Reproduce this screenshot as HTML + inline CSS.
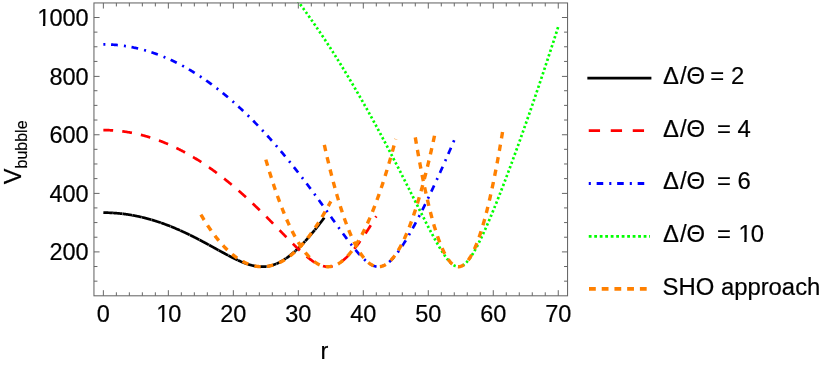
<!DOCTYPE html>
<html><head><meta charset="utf-8"><title>V bubble</title>
<style>
html,body{margin:0;padding:0;background:#fff;}
body{width:830px;height:365px;overflow:hidden;}
svg{display:block;}
text{font-family:"Liberation Sans",sans-serif;fill:#000;stroke:#000;stroke-width:0.2px;}
</style></head><body>
<svg width="830" height="365" viewBox="0 0 830 365" style="will-change:transform">
<rect x="0" y="0" width="830" height="365" fill="#fff"/>
<defs><clipPath id="pc"><rect x="93.95" y="2.25" width="473.60" height="293.55"/></clipPath></defs>
<g clip-path="url(#pc)" stroke-linecap="butt" stroke-linejoin="round">
<path d="M103.36,212.65 L103.68,212.66 L103.99,212.66 L104.31,212.66 L104.63,212.66 L104.95,212.66 L105.26,212.67 L105.58,212.67 L105.90,212.67 L106.21,212.68 L106.53,212.69 L106.85,212.69 L107.17,212.70 L107.48,212.71 L107.80,212.72 L108.12,212.72 L108.44,212.73 L108.75,212.74 L109.07,212.76 L109.39,212.77 L109.70,212.78 L110.02,212.79 L110.34,212.81 L110.66,212.82 L110.97,212.83 L111.29,212.85 L111.61,212.87 L111.92,212.88 L112.24,212.90 L112.56,212.92 L112.88,212.94" fill="none" stroke="#000000" stroke-width="2.7"/>
<path d="M113.06,212.95 L113.37,212.97 L113.69,212.99 L114.00,213.01 L114.31,213.03 L114.63,213.05 L114.94,213.07 L115.26,213.09 L115.57,213.12 L115.89,213.14 L116.20,213.17 L116.51,213.19 L116.83,213.22 L117.14,213.24 L117.46,213.27 L117.77,213.30 L118.08,213.33 L118.40,213.36 L118.71,213.39 L119.03,213.42 L119.34,213.45 L119.65,213.48 L119.97,213.51 L120.28,213.54 L120.60,213.58 L120.91,213.61 L121.23,213.64 L121.54,213.68 L121.85,213.71 L122.17,213.75 L122.48,213.79" fill="none" stroke="#000000" stroke-width="2.7"/>
<path d="M122.66,213.81 L122.98,213.85 L123.29,213.89 L123.61,213.92 L123.92,213.96 L124.24,214.00 L124.55,214.05 L124.86,214.09 L125.18,214.13 L125.49,214.17 L125.81,214.21 L126.12,214.26 L126.43,214.30 L126.75,214.35 L127.06,214.39 L127.38,214.44 L127.69,214.49 L128.00,214.53 L128.32,214.58 L128.63,214.63 L128.95,214.68 L129.26,214.73 L129.58,214.78 L129.89,214.83 L130.20,214.88 L130.52,214.94 L130.83,214.99 L131.15,215.04 L131.46,215.10 L131.77,215.15 L132.09,215.21" fill="none" stroke="#000000" stroke-width="2.7"/>
<path d="M132.27,215.24 L132.59,215.30 L132.90,215.35 L133.21,215.41 L133.53,215.47 L133.84,215.53 L134.16,215.59 L134.47,215.65 L134.78,215.71 L135.10,215.77 L135.41,215.83 L135.73,215.89 L136.04,215.95 L136.35,216.02 L136.67,216.08 L136.98,216.15 L137.30,216.21 L137.61,216.28 L137.93,216.34 L138.24,216.41 L138.55,216.48 L138.87,216.55 L139.18,216.62 L139.50,216.68 L139.81,216.75 L140.12,216.82 L140.44,216.90 L140.75,216.97 L141.07,217.04 L141.38,217.11 L141.70,217.19" fill="none" stroke="#000000" stroke-width="2.7"/>
<path d="M141.88,217.23 L142.19,217.30 L142.51,217.38 L142.82,217.45 L143.13,217.53 L143.45,217.61 L143.76,217.68 L144.08,217.76 L144.39,217.84 L144.70,217.92 L145.02,218.00 L145.33,218.08 L145.65,218.16 L145.96,218.24 L146.28,218.32 L146.59,218.41 L146.90,218.49 L147.22,218.57 L147.53,218.66 L147.85,218.74 L148.16,218.83 L148.47,218.92 L148.79,219.00 L149.10,219.09 L149.42,219.18 L149.73,219.27 L150.05,219.35 L150.36,219.44 L150.67,219.53 L150.99,219.62 L151.30,219.72" fill="none" stroke="#000000" stroke-width="2.7"/>
<path d="M151.48,219.77 L151.80,219.86 L152.11,219.95 L152.43,220.05 L152.74,220.14 L153.05,220.24 L153.37,220.33 L153.68,220.43 L154.00,220.52 L154.31,220.62 L154.63,220.72 L154.94,220.81 L155.25,220.91 L155.57,221.01 L155.88,221.11 L156.20,221.21 L156.51,221.31 L156.82,221.41 L157.14,221.51 L157.45,221.62 L157.77,221.72 L158.08,221.82 L158.40,221.93 L158.71,222.03 L159.02,222.14 L159.34,222.24 L159.65,222.35 L159.97,222.46 L160.28,222.56 L160.59,222.67 L160.91,222.78" fill="none" stroke="#000000" stroke-width="2.7"/>
<path d="M161.09,222.84 L161.40,222.95 L161.72,223.06 L162.03,223.17 L162.35,223.28 L162.66,223.39 L162.98,223.51 L163.29,223.62 L163.60,223.73 L163.92,223.85 L164.23,223.96 L164.55,224.07 L164.86,224.19 L165.17,224.31 L165.49,224.42 L165.80,224.54 L166.12,224.66 L166.43,224.77 L166.75,224.89 L167.06,225.01 L167.37,225.13 L167.69,225.25 L168.00,225.37 L168.32,225.49 L168.63,225.61 L168.94,225.74 L169.26,225.86 L169.57,225.98 L169.89,226.11 L170.20,226.23 L170.52,226.36" fill="none" stroke="#000000" stroke-width="2.7"/>
<path d="M170.70,226.43 L171.01,226.55 L171.33,226.68 L171.64,226.81 L171.95,226.93 L172.27,227.06 L172.58,227.19 L172.90,227.32 L173.21,227.45 L173.52,227.58 L173.84,227.71 L174.15,227.84 L174.47,227.97 L174.78,228.10 L175.10,228.23 L175.41,228.37 L175.72,228.50 L176.04,228.63 L176.35,228.77 L176.67,228.90 L176.98,229.04 L177.29,229.17 L177.61,229.31 L177.92,229.44 L178.24,229.58 L178.55,229.72 L178.87,229.86 L179.18,229.99 L179.49,230.13 L179.81,230.27 L180.12,230.41" fill="none" stroke="#000000" stroke-width="2.7"/>
<path d="M180.30,230.49 L180.62,230.63 L180.93,230.78 L181.25,230.92 L181.56,231.06 L181.87,231.20 L182.19,231.35 L182.50,231.49 L182.82,231.63 L183.13,231.78 L183.45,231.92 L183.76,232.07 L184.07,232.21 L184.39,232.36 L184.70,232.50 L185.02,232.65 L185.33,232.80 L185.64,232.95 L185.96,233.10 L186.27,233.24 L186.59,233.39 L186.90,233.54 L187.22,233.69 L187.53,233.84 L187.84,233.99 L188.16,234.15 L188.47,234.30 L188.79,234.45 L189.10,234.60 L189.41,234.75 L189.73,234.91" fill="none" stroke="#000000" stroke-width="2.7"/>
<path d="M189.91,235.00 L190.22,235.15 L190.54,235.30 L190.85,235.46 L191.17,235.61 L191.48,235.77 L191.80,235.93 L192.11,236.08 L192.42,236.24 L192.74,236.40 L193.05,236.55 L193.37,236.71 L193.68,236.87 L193.99,237.03 L194.31,237.19 L194.62,237.35 L194.94,237.51 L195.25,237.67 L195.57,237.83 L195.88,237.99 L196.19,238.15 L196.51,238.31 L196.82,238.47 L197.14,238.63 L197.45,238.79 L197.76,238.96 L198.08,239.12 L198.39,239.28 L198.71,239.45 L199.02,239.61 L199.34,239.77" fill="none" stroke="#000000" stroke-width="2.7"/>
<path d="M199.52,239.87 L199.83,240.03 L200.15,240.20 L200.46,240.36 L200.77,240.53 L201.09,240.70 L201.40,240.86 L201.72,241.03 L202.03,241.19 L202.34,241.36 L202.66,241.53 L202.97,241.70 L203.29,241.86 L203.60,242.03 L203.92,242.20 L204.23,242.37 L204.54,242.54 L204.86,242.71 L205.17,242.87 L205.49,243.04 L205.80,243.21 L206.11,243.38 L206.43,243.55 L206.74,243.72 L207.06,243.89 L207.37,244.06 L207.69,244.23 L208.00,244.41 L208.31,244.58 L208.63,244.75 L208.94,244.92" fill="none" stroke="#000000" stroke-width="2.7"/>
<path d="M209.12,245.02 L209.44,245.19 L209.75,245.36 L210.07,245.53 L210.38,245.71 L210.69,245.88 L211.01,246.05 L211.32,246.22 L211.64,246.39 L211.95,246.57 L212.27,246.74 L212.58,246.91 L212.89,247.08 L213.21,247.26 L213.52,247.43 L213.84,247.60 L214.15,247.78 L214.46,247.95 L214.78,248.12 L215.09,248.30 L215.41,248.47 L215.72,248.64 L216.04,248.81 L216.35,248.99 L216.66,249.16 L216.98,249.33 L217.29,249.51 L217.61,249.68 L217.92,249.85 L218.23,250.03 L218.55,250.20" fill="none" stroke="#000000" stroke-width="2.7"/>
<path d="M218.73,250.30 L219.04,250.47 L219.36,250.64 L219.67,250.82 L219.99,250.99 L220.30,251.16 L220.62,251.33 L220.93,251.50 L221.24,251.68 L221.56,251.85 L221.87,252.02 L222.19,252.19 L222.50,252.36 L222.81,252.53 L223.13,252.70 L223.44,252.87 L223.76,253.04 L224.07,253.21 L224.39,253.38 L224.70,253.55 L225.01,253.72 L225.33,253.89 L225.64,254.06 L225.96,254.23 L226.27,254.39 L226.58,254.56 L226.90,254.73 L227.21,254.89 L227.53,255.06 L227.84,255.23 L228.16,255.39" fill="none" stroke="#000000" stroke-width="2.7"/>
<path d="M228.34,255.49 L228.65,255.65 L228.97,255.82 L229.28,255.98 L229.59,256.14 L229.91,256.31 L230.22,256.47 L230.54,256.63 L230.85,256.79 L231.16,256.95 L231.48,257.11 L231.79,257.27 L232.11,257.43 L232.42,257.59 L232.74,257.75 L233.05,257.91 L233.36,258.06 L233.68,258.22 L233.99,258.37 L234.31,258.53 L234.62,258.68 L234.93,258.83 L235.25,258.99 L235.56,259.14 L235.88,259.29 L236.19,259.44 L236.51,259.58 L236.82,259.73 L237.13,259.88 L237.45,260.03 L237.76,260.17" fill="none" stroke="#000000" stroke-width="2.7"/>
<path d="M237.94,260.25 L238.26,260.40 L238.57,260.54 L238.89,260.68 L239.20,260.82 L239.51,260.96 L239.83,261.10 L240.14,261.24 L240.46,261.37 L240.77,261.51 L241.09,261.64 L241.40,261.78 L241.71,261.91 L242.03,262.04 L242.34,262.17 L242.66,262.29 L242.97,262.42 L243.28,262.55 L243.60,262.67 L243.91,262.79 L244.23,262.91 L244.54,263.03 L244.86,263.15 L245.17,263.27 L245.48,263.38 L245.80,263.50 L246.11,263.61 L246.43,263.72 L246.74,263.83 L247.05,263.94 L247.37,264.04" fill="none" stroke="#000000" stroke-width="2.7"/>
<path d="M247.55,264.10 L247.86,264.21 L248.18,264.31 L248.49,264.41 L248.81,264.51 L249.12,264.60 L249.44,264.70 L249.75,264.79 L250.06,264.88 L250.38,264.97 L250.69,265.06 L251.01,265.14 L251.32,265.23 L251.63,265.31 L251.95,265.39 L252.26,265.46 L252.58,265.54 L252.89,265.61 L253.21,265.68 L253.52,265.75 L253.83,265.82 L254.15,265.88 L254.46,265.95 L254.78,266.01 L255.09,266.06 L255.40,266.12 L255.72,266.17 L256.03,266.22 L256.35,266.27 L256.66,266.32 L256.98,266.36" fill="none" stroke="#000000" stroke-width="2.7"/>
<path d="M257.16,266.39 L257.47,266.43 L257.79,266.47 L258.10,266.50 L258.41,266.53 L258.73,266.56 L259.04,266.59 L259.36,266.62 L259.67,266.64 L259.98,266.66 L260.30,266.68 L260.61,266.69 L260.93,266.70 L261.24,266.71 L261.56,266.72 L261.87,266.72 L262.18,266.72 L262.50,266.72 L262.81,266.72 L263.13,266.71 L263.44,266.70 L263.75,266.69 L264.07,266.67 L264.38,266.66 L264.70,266.63 L265.01,266.61 L265.33,266.58 L265.64,266.55 L265.95,266.52 L266.27,266.49 L266.58,266.45" fill="none" stroke="#000000" stroke-width="2.7"/>
<path d="M266.76,266.42 L267.08,266.38 L267.39,266.34 L267.71,266.29 L268.02,266.23 L268.33,266.18 L268.65,266.12 L268.96,266.06 L269.28,266.00 L269.59,265.93 L269.91,265.86 L270.22,265.79 L270.53,265.71 L270.85,265.64 L271.16,265.55 L271.48,265.47 L271.79,265.38 L272.10,265.29 L272.42,265.20 L272.73,265.10 L273.05,265.00 L273.36,264.90 L273.68,264.80 L273.99,264.69 L274.30,264.58 L274.62,264.46 L274.93,264.34 L275.25,264.22 L275.56,264.10 L275.87,263.98 L276.19,263.85" fill="none" stroke="#000000" stroke-width="2.7"/>
<path d="M276.37,263.77 L276.68,263.64 L277.00,263.50 L277.31,263.36 L277.63,263.22 L277.94,263.07 L278.26,262.93 L278.57,262.78 L278.88,262.62 L279.20,262.47 L279.51,262.31 L279.83,262.15 L280.14,261.98 L280.45,261.81 L280.77,261.64 L281.08,261.47 L281.40,261.29 L281.71,261.11 L282.03,260.93 L282.34,260.75 L282.65,260.56 L282.97,260.37 L283.28,260.18 L283.60,259.99 L283.91,259.79 L284.22,259.59 L284.54,259.39 L284.85,259.18 L285.17,258.97 L285.48,258.76 L285.79,258.55" fill="none" stroke="#000000" stroke-width="2.7"/>
<path d="M285.98,258.43 L286.29,258.21 L286.61,257.99 L286.92,257.77 L287.23,257.54 L287.55,257.32 L287.86,257.09 L288.18,256.86 L288.49,256.62 L288.80,256.38 L289.12,256.15 L289.43,255.90 L289.75,255.66 L290.06,255.41 L290.38,255.17 L290.69,254.92 L291.00,254.66 L291.32,254.41 L291.63,254.15 L291.95,253.89 L292.26,253.63 L292.57,253.37 L292.89,253.10 L293.20,252.83 L293.52,252.56 L293.83,252.29 L294.14,252.01 L294.46,251.74 L294.77,251.46 L295.09,251.18 L295.40,250.89" fill="none" stroke="#000000" stroke-width="2.7"/>
<path d="M295.58,250.73 L295.90,250.44 L296.21,250.15 L296.53,249.86 L296.84,249.57 L297.15,249.28 L297.47,248.98 L297.78,248.68 L298.10,248.38 L298.41,248.08 L298.73,247.78 L299.04,247.47 L299.35,247.16 L299.67,246.85 L299.98,246.54 L300.30,246.23 L300.61,245.91 L300.92,245.59 L301.24,245.28 L301.55,244.95 L301.87,244.63 L302.18,244.31 L302.49,243.98 L302.81,243.65 L303.12,243.33 L303.44,242.99 L303.75,242.66 L304.07,242.33 L304.38,241.99 L304.69,241.65 L305.01,241.31" fill="none" stroke="#000000" stroke-width="2.7"/>
<path d="M305.19,241.12 L305.50,240.77 L305.82,240.43 L306.13,240.08 L306.45,239.74 L306.76,239.39 L307.08,239.04 L307.39,238.69 L307.70,238.33 L308.02,237.98 L308.33,237.62 L308.65,237.26 L308.96,236.90 L309.27,236.54 L309.59,236.18 L309.90,235.82 L310.22,235.45 L310.53,235.08 L310.84,234.72 L311.16,234.35 L311.47,233.97 L311.79,233.60 L312.10,233.23 L312.42,232.85 L312.73,232.47 L313.04,232.10 L313.36,231.72 L313.67,231.33 L313.99,230.95 L314.30,230.57 L314.61,230.18" fill="none" stroke="#000000" stroke-width="2.7"/>
<path d="M314.80,229.96 L315.11,229.57 L315.43,229.17 L315.75,228.78 L316.07,228.39 L316.38,227.99 L316.70,227.59 L317.02,227.19 L317.33,226.79 L317.65,226.39 L317.97,225.98 L318.29,225.58 L318.60,225.17 L318.92,224.77 L319.24,224.36 L319.55,223.95 L319.87,223.54 L320.19,223.13 L320.51,222.71 L320.82,222.30 L321.14,221.88 L321.46,221.46 L321.77,221.04 L322.09,220.62 L322.41,220.20 L322.73,219.78 L323.04,219.36 L323.36,218.93 L323.68,218.51 L324.00,218.08 L324.31,217.65" fill="none" stroke="#000000" stroke-width="2.7"/>
<path d="M103.36,130.11 L103.75,130.11 L104.14,130.11 L104.53,130.11 L104.92,130.12 L105.31,130.12 L105.70,130.13 L106.09,130.13 L106.48,130.14 L106.87,130.15 L107.26,130.16 L107.66,130.17 L108.05,130.18 L108.44,130.20 L108.83,130.21 L109.22,130.22 L109.61,130.24 L110.00,130.26 L110.39,130.28 L110.78,130.29 L111.17,130.31 L111.56,130.34 L111.95,130.36 L112.34,130.38 L112.73,130.40 L113.12,130.43 L113.51,130.46 L113.90,130.48 L114.29,130.51 L114.68,130.54 L115.07,130.57 L115.46,130.60 L115.86,130.63 L116.25,130.67 L116.64,130.70 L117.03,130.74 L117.42,130.77 L117.81,130.81 L118.20,130.85 L118.59,130.89 L118.98,130.93 L119.37,130.97 L119.76,131.01 L120.15,131.06 L120.54,131.10 L120.93,131.15 L121.32,131.19 L121.71,131.24 L122.10,131.29 L122.49,131.34 L122.88,131.39 L123.27,131.44 L123.66,131.50 L124.06,131.55 L124.45,131.61 L124.84,131.66 L125.23,131.72 L125.62,131.78 L126.01,131.83 L126.40,131.89 L126.79,131.96 L127.18,132.02 L127.57,132.08 L127.96,132.15 L128.35,132.21 L128.74,132.28 L129.13,132.34 L129.52,132.41 L129.91,132.48 L130.30,132.55 L130.69,132.62 L131.08,132.69 L131.47,132.77 L131.86,132.84 L132.26,132.92 L132.65,132.99 L133.04,133.07 L133.43,133.15 L133.82,133.23 L134.21,133.31 L134.60,133.39 L134.99,133.47 L135.38,133.56 L135.77,133.64 L136.16,133.73 L136.55,133.81 L136.94,133.90 L137.33,133.99 L137.72,134.08 L138.11,134.17 L138.50,134.26 L138.89,134.36 L139.28,134.45 L139.67,134.54 L140.06,134.64 L140.46,134.74 L140.85,134.83 L141.24,134.93 L141.63,135.03 L142.02,135.13 L142.41,135.24 L142.80,135.34 L143.19,135.44 L143.58,135.55 L143.97,135.65 L144.36,135.76 L144.75,135.87 L145.14,135.98 L145.53,136.09 L145.92,136.20 L146.31,136.31 L146.70,136.42 L147.09,136.54 L147.48,136.65 L147.87,136.77 L148.26,136.89 L148.65,137.01 L149.05,137.12 L149.44,137.24 L149.83,137.37 L150.22,137.49 L150.61,137.61 L151.00,137.74 L151.39,137.86 L151.78,137.99 L152.17,138.11 L152.56,138.24 L152.95,138.37 L153.34,138.50 L153.73,138.63 L154.12,138.77 L154.51,138.90 L154.90,139.04 L155.29,139.17 L155.68,139.31 L156.07,139.44 L156.46,139.58 L156.85,139.72 L157.25,139.86 L157.64,140.00 L158.03,140.15 L158.42,140.29 L158.81,140.44 L159.20,140.58 L159.59,140.73 L159.98,140.88 L160.37,141.02 L160.76,141.17 L161.15,141.32 L161.54,141.48 L161.93,141.63 L162.32,141.78 L162.71,141.94 L163.10,142.09 L163.49,142.25 L163.88,142.41 L164.27,142.57 L164.66,142.73 L165.05,142.89 L165.45,143.05 L165.84,143.21 L166.23,143.38 L166.62,143.54 L167.01,143.71 L167.40,143.87 L167.79,144.04 L168.18,144.21 L168.57,144.38 L168.96,144.55 L169.35,144.72 L169.74,144.90 L170.13,145.07 L170.52,145.25 L170.91,145.42 L171.30,145.60 L171.69,145.78 L172.08,145.96 L172.47,146.14 L172.86,146.32 L173.25,146.50 L173.65,146.68 L174.04,146.87 L174.43,147.05 L174.82,147.24 L175.21,147.42 L175.60,147.61 L175.99,147.80 L176.38,147.99 L176.77,148.18 L177.16,148.37 L177.55,148.57 L177.94,148.76 L178.33,148.96 L178.72,149.15 L179.11,149.35 L179.50,149.55 L179.89,149.75 L180.28,149.95 L180.67,150.15 L181.06,150.35 L181.45,150.55 L181.85,150.75 L182.24,150.96 L182.63,151.17 L183.02,151.37 L183.41,151.58 L183.80,151.79 L184.19,152.00 L184.58,152.21 L184.97,152.42 L185.36,152.64 L185.75,152.85 L186.14,153.06 L186.53,153.28 L186.92,153.50 L187.31,153.72 L187.70,153.93 L188.09,154.15 L188.48,154.37 L188.87,154.60 L189.26,154.82 L189.65,155.04 L190.05,155.27 L190.44,155.49 L190.83,155.72 L191.22,155.95 L191.61,156.18 L192.00,156.41 L192.39,156.64 L192.78,156.87 L193.17,157.10 L193.56,157.34 L193.95,157.57 L194.34,157.81 L194.73,158.04 L195.12,158.28 L195.51,158.52 L195.90,158.76 L196.29,159.00 L196.68,159.24 L197.07,159.48 L197.46,159.73 L197.85,159.97 L198.25,160.22 L198.64,160.46 L199.03,160.71 L199.42,160.96 L199.81,161.21 L200.20,161.46 L200.59,161.71 L200.98,161.96 L201.37,162.21 L201.76,162.47 L202.15,162.72 L202.54,162.98 L202.93,163.24 L203.32,163.50 L203.71,163.75 L204.10,164.01 L204.49,164.28 L204.88,164.54 L205.27,164.80 L205.66,165.06 L206.05,165.33 L206.45,165.59 L206.84,165.86 L207.23,166.13 L207.62,166.40 L208.01,166.67 L208.40,166.94 L208.79,167.21 L209.18,167.48 L209.57,167.75 L209.96,168.03 L210.35,168.30 L210.74,168.58 L211.13,168.86 L211.52,169.14 L211.91,169.41 L212.30,169.70 L212.69,169.98 L213.08,170.26 L213.47,170.54 L213.86,170.82 L214.25,171.11 L214.65,171.40 L215.04,171.68 L215.43,171.97 L215.82,172.26 L216.21,172.55 L216.60,172.84 L216.99,173.13 L217.38,173.42 L217.77,173.71 L218.16,174.01 L218.55,174.30 L218.94,174.60 L219.33,174.90 L219.72,175.19 L220.11,175.49 L220.50,175.79 L220.89,176.09 L221.28,176.39 L221.67,176.70 L222.06,177.00 L222.45,177.30 L222.84,177.61 L223.24,177.92 L223.63,178.22 L224.02,178.53 L224.41,178.84 L224.80,179.15 L225.19,179.46 L225.58,179.77 L225.97,180.08 L226.36,180.40 L226.75,180.71 L227.14,181.03 L227.53,181.34 L227.92,181.66 L228.31,181.98 L228.70,182.30 L229.09,182.62 L229.48,182.94 L229.87,183.26 L230.26,183.58 L230.65,183.90 L231.04,184.23 L231.44,184.55 L231.83,184.88 L232.22,185.20 L232.61,185.53 L233.00,185.86 L233.39,186.19 L233.78,186.52 L234.17,186.85 L234.56,187.18 L234.95,187.52 L235.34,187.85 L235.73,188.18 L236.12,188.52 L236.51,188.85 L236.90,189.19 L237.29,189.53 L237.68,189.87 L238.07,190.21 L238.46,190.55 L238.85,190.89 L239.24,191.23 L239.64,191.57 L240.03,191.92 L240.42,192.26 L240.81,192.61 L241.20,192.95 L241.59,193.30 L241.98,193.65 L242.37,194.00 L242.76,194.35 L243.15,194.70 L243.54,195.05 L243.93,195.40 L244.32,195.75 L244.71,196.11 L245.10,196.46 L245.49,196.82 L245.88,197.17 L246.27,197.53 L246.66,197.88 L247.05,198.24 L247.44,198.60 L247.84,198.96 L248.23,199.32 L248.62,199.68 L249.01,200.04 L249.40,200.41 L249.79,200.77 L250.18,201.13 L250.57,201.50 L250.96,201.87 L251.35,202.23 L251.74,202.60 L252.13,202.97 L252.52,203.34 L252.91,203.70 L253.30,204.07 L253.69,204.44 L254.08,204.82 L254.47,205.19 L254.86,205.56 L255.25,205.93 L255.64,206.31 L256.04,206.68 L256.43,207.06 L256.82,207.43 L257.21,207.81 L257.60,208.19 L257.99,208.57 L258.38,208.95 L258.77,209.32 L259.16,209.70 L259.55,210.08 L259.94,210.47 L260.33,210.85 L260.72,211.23 L261.11,211.61 L261.50,212.00 L261.89,212.38 L262.28,212.77 L262.67,213.15 L263.06,213.54 L263.45,213.92 L263.84,214.31 L264.24,214.70 L264.63,215.08 L265.02,215.47 L265.41,215.86 L265.80,216.25 L266.19,216.64 L266.58,217.03 L266.97,217.42 L267.36,217.81 L267.75,218.21 L268.14,218.60 L268.53,218.99 L268.92,219.38 L269.31,219.78 L269.70,220.17 L270.09,220.57 L270.48,220.96 L270.87,221.36 L271.26,221.75 L271.65,222.15 L272.04,222.54 L272.44,222.94 L272.83,223.34 L273.22,223.74 L273.61,224.13 L274.00,224.53 L274.39,224.93 L274.78,225.33 L275.17,225.73 L275.56,226.12 L275.95,226.52 L276.34,226.92 L276.73,227.32 L277.12,227.72 L277.51,228.12 L277.90,228.52 L278.29,228.92 L278.68,229.32 L279.07,229.72 L279.46,230.12 L279.85,230.52 L280.24,230.92 L280.64,231.32 L281.03,231.72 L281.42,232.12 L281.81,232.52 L282.20,232.92 L282.59,233.32 L282.98,233.72 L283.37,234.12 L283.76,234.52 L284.15,234.92 L284.54,235.32 L284.93,235.72 L285.32,236.12 L285.71,236.52 L286.10,236.91 L286.49,237.31 L286.88,237.71 L287.27,238.11 L287.66,238.50 L288.05,238.90 L288.44,239.29 L288.84,239.69 L289.23,240.08 L289.62,240.48 L290.01,240.87 L290.40,241.27 L290.79,241.66 L291.18,242.05 L291.57,242.44 L291.96,242.83 L292.35,243.22 L292.74,243.61 L293.13,244.00 L293.52,244.38 L293.91,244.77 L294.30,245.15 L294.69,245.54 L295.08,245.92 L295.47,246.30 L295.86,246.68 L296.25,247.06 L296.64,247.44 L297.04,247.81 L297.43,248.19 L297.82,248.56 L298.21,248.93 L298.60,249.30 L298.99,249.67 L299.38,250.04 L299.77,250.41 L300.16,250.77 L300.55,251.13 L300.94,251.49 L301.33,251.85 L301.72,252.20 L302.11,252.56 L302.50,252.91 L302.89,253.26 L303.28,253.61 L303.67,253.95 L304.06,254.29 L304.45,254.63 L304.84,254.97 L305.23,255.31 L305.63,255.64 L306.02,255.97 L306.41,256.29 L306.80,256.62 L307.19,256.94 L307.58,257.25 L307.97,257.57 L308.36,257.88 L308.75,258.18 L309.14,258.48 L309.53,258.78 L309.92,259.08 L310.31,259.37 L310.70,259.66 L311.09,259.94 L311.48,260.22 L311.87,260.50 L312.26,260.77 L312.65,261.03 L313.04,261.30 L313.43,261.55 L313.83,261.81 L314.22,262.05 L314.61,262.30 L315.00,262.53 L315.39,262.76 L315.78,262.99 L316.17,263.21 L316.56,263.43 L316.95,263.64 L317.34,263.84 L317.73,264.04 L318.12,264.23 L318.51,264.41 L318.90,264.59 L319.29,264.77 L319.68,264.93 L320.07,265.09 L320.46,265.24 L320.85,265.39 L321.24,265.53 L321.63,265.66 L322.03,265.79 L322.42,265.90 L322.81,266.01 L323.20,266.11 L323.59,266.21 L323.98,266.30 L324.37,266.38 L324.76,266.45 L325.15,266.51 L325.54,266.57 L325.93,266.61 L326.32,266.65 L326.71,266.68 L327.10,266.70 L327.49,266.72 L327.88,266.72 L328.27,266.72 L328.66,266.71 L329.05,266.69 L329.44,266.66 L329.83,266.63 L330.23,266.58 L330.62,266.53 L331.01,266.46 L331.40,266.39 L331.79,266.31 L332.18,266.22 L332.57,266.13 L332.96,266.02 L333.35,265.90 L333.74,265.78 L334.13,265.65 L334.52,265.51 L334.91,265.36 L335.30,265.20 L335.69,265.04 L336.08,264.86 L336.47,264.68 L336.86,264.49 L337.25,264.29 L337.64,264.08 L338.03,263.87 L338.43,263.65 L338.82,263.41 L339.21,263.18 L339.60,262.93 L339.99,262.67 L340.38,262.41 L340.77,262.14 L341.16,261.87 L341.55,261.58 L341.94,261.29 L342.33,260.99 L342.72,260.68 L343.11,260.37 L343.50,260.05 L343.89,259.72 L344.28,259.39 L344.67,259.05 L345.06,258.70 L345.45,258.35 L345.84,257.99 L346.23,257.62 L346.63,257.25 L347.02,256.87 L347.41,256.49 L347.80,256.10 L348.19,255.70 L348.58,255.30 L348.97,254.89 L349.36,254.48 L349.75,254.06 L350.14,253.64 L350.53,253.21 L350.92,252.77 L351.31,252.33 L351.70,251.89 L352.09,251.44 L352.48,250.98 L352.87,250.52 L353.26,250.06 L353.65,249.59 L354.04,249.12 L354.43,248.64 L354.83,248.16 L355.22,247.67 L355.61,247.18 L356.00,246.68 L356.39,246.18 L356.78,245.68 L357.17,245.17 L357.56,244.66 L357.95,244.14 L358.34,243.62 L358.73,243.09 L359.12,242.57 L359.51,242.03 L359.90,241.50 L360.29,240.96 L360.68,240.42 L361.07,239.87 L361.46,239.32 L361.85,238.77 L362.24,238.21 L362.63,237.65 L363.03,237.09 L363.42,236.52 L363.81,235.95 L364.20,235.38 L364.59,234.80 L364.98,234.23 L365.37,233.64 L365.76,233.06 L366.15,232.47 L366.54,231.88 L366.93,231.29 L367.32,230.69 L367.71,230.09 L368.10,229.49 L368.49,228.88 L368.88,228.27 L369.27,227.66 L369.66,227.05 L370.05,226.44 L370.44,225.82 L370.83,225.20 L371.23,224.57 L371.62,223.95 L372.01,223.32 L372.40,222.69 L372.79,222.06 L373.18,221.42 L373.57,220.78 L373.96,220.14 L374.35,219.50 L374.74,218.86 L375.13,218.21 L375.52,217.56 L375.91,216.91 L376.30,216.25" fill="none" stroke="#ff0000" stroke-width="2.7" stroke-dasharray="9.8 9.15"/>
<path d="M103.36,44.39 L103.86,44.39 L104.36,44.39 L104.87,44.40 L105.37,44.40 L105.87,44.41 L106.37,44.42 L106.87,44.43 L107.38,44.44 L107.88,44.46 L108.38,44.47 L108.88,44.49 L109.38,44.51 L109.89,44.53 L110.39,44.56 L110.89,44.58 L111.39,44.61 L111.89,44.64 L112.40,44.67 L112.90,44.70 L113.40,44.73 L113.90,44.77 L114.40,44.80 L114.91,44.84 L115.41,44.88 L115.91,44.93 L116.41,44.97 L116.92,45.02 L117.42,45.06 L117.92,45.11 L118.42,45.16 L118.92,45.22 L119.43,45.27 L119.93,45.33 L120.43,45.38 L120.93,45.44 L121.43,45.50 L121.94,45.57 L122.44,45.63 L122.94,45.70 L123.44,45.77 L123.94,45.84 L124.45,45.91 L124.95,45.98 L125.45,46.06 L125.95,46.13 L126.45,46.21 L126.96,46.29 L127.46,46.37 L127.96,46.46 L128.46,46.54 L128.96,46.63 L129.47,46.72 L129.97,46.81 L130.47,46.90 L130.97,47.00 L131.47,47.09 L131.98,47.19 L132.48,47.29 L132.98,47.39 L133.48,47.49 L133.98,47.60 L134.49,47.70 L134.99,47.81 L135.49,47.92 L135.99,48.03 L136.49,48.14 L137.00,48.26 L137.50,48.37 L138.00,48.49 L138.50,48.61 L139.00,48.73 L139.51,48.86 L140.01,48.98 L140.51,49.11 L141.01,49.24 L141.51,49.37 L142.02,49.50 L142.52,49.63 L143.02,49.77 L143.52,49.90 L144.03,50.04 L144.53,50.18 L145.03,50.33 L145.53,50.47 L146.03,50.62 L146.54,50.76 L147.04,50.91 L147.54,51.06 L148.04,51.22 L148.54,51.37 L149.05,51.53 L149.55,51.68 L150.05,51.84 L150.55,52.00 L151.05,52.17 L151.56,52.33 L152.06,52.50 L152.56,52.67 L153.06,52.84 L153.56,53.01 L154.07,53.18 L154.57,53.36 L155.07,53.53 L155.57,53.71 L156.07,53.89 L156.58,54.07 L157.08,54.26 L157.58,54.44 L158.08,54.63 L158.58,54.82 L159.09,55.01 L159.59,55.20 L160.09,55.39 L160.59,55.59 L161.09,55.79 L161.60,55.98 L162.10,56.18 L162.60,56.39 L163.10,56.59 L163.60,56.80 L164.11,57.00 L164.61,57.21 L165.11,57.43 L165.61,57.64 L166.11,57.85 L166.62,58.07 L167.12,58.29 L167.62,58.51 L168.12,58.73 L168.62,58.95 L169.13,59.17 L169.63,59.40 L170.13,59.63 L170.63,59.86 L171.14,60.09 L171.64,60.32 L172.14,60.56 L172.64,60.80 L173.14,61.03 L173.65,61.27 L174.15,61.52 L174.65,61.76 L175.15,62.00 L175.65,62.25 L176.16,62.50 L176.66,62.75 L177.16,63.00 L177.66,63.26 L178.16,63.51 L178.67,63.77 L179.17,64.03 L179.67,64.29 L180.17,64.55 L180.67,64.82 L181.18,65.08 L181.68,65.35 L182.18,65.62 L182.68,65.89 L183.18,66.16 L183.69,66.44 L184.19,66.71 L184.69,66.99 L185.19,67.27 L185.69,67.55 L186.20,67.83 L186.70,68.12 L187.20,68.41 L187.70,68.69 L188.20,68.98 L188.71,69.27 L189.21,69.57 L189.71,69.86 L190.21,70.16 L190.71,70.46 L191.22,70.76 L191.72,71.06 L192.22,71.36 L192.72,71.67 L193.22,71.97 L193.73,72.28 L194.23,72.59 L194.73,72.91 L195.23,73.22 L195.73,73.53 L196.24,73.85 L196.74,74.17 L197.24,74.49 L197.74,74.81 L198.25,75.14 L198.75,75.46 L199.25,75.79 L199.75,76.12 L200.25,76.45 L200.76,76.78 L201.26,77.12 L201.76,77.45 L202.26,77.79 L202.76,78.13 L203.27,78.47 L203.77,78.81 L204.27,79.16 L204.77,79.50 L205.27,79.85 L205.78,80.20 L206.28,80.55 L206.78,80.90 L207.28,81.26 L207.78,81.61 L208.29,81.97 L208.79,82.33 L209.29,82.69 L209.79,83.05 L210.29,83.42 L210.80,83.79 L211.30,84.15 L211.80,84.52 L212.30,84.90 L212.80,85.27 L213.31,85.64 L213.81,86.02 L214.31,86.40 L214.81,86.78 L215.31,87.16 L215.82,87.54 L216.32,87.93 L216.82,88.31 L217.32,88.70 L217.82,89.09 L218.33,89.48 L218.83,89.88 L219.33,90.27 L219.83,90.67 L220.33,91.07 L220.84,91.47 L221.34,91.87 L221.84,92.27 L222.34,92.68 L222.84,93.08 L223.35,93.49 L223.85,93.90 L224.35,94.31 L224.85,94.73 L225.36,95.14 L225.86,95.56 L226.36,95.98 L226.86,96.40 L227.36,96.82 L227.87,97.24 L228.37,97.67 L228.87,98.10 L229.37,98.53 L229.87,98.96 L230.38,99.39 L230.88,99.82 L231.38,100.26 L231.88,100.69 L232.38,101.13 L232.89,101.57 L233.39,102.01 L233.89,102.46 L234.39,102.90 L234.89,103.35 L235.40,103.80 L235.90,104.25 L236.40,104.70 L236.90,105.15 L237.40,105.61 L237.91,106.07 L238.41,106.53 L238.91,106.99 L239.41,107.45 L239.91,107.91 L240.42,108.38 L240.92,108.84 L241.42,109.31 L241.92,109.78 L242.42,110.25 L242.93,110.73 L243.43,111.20 L243.93,111.68 L244.43,112.16 L244.93,112.64 L245.44,113.12 L245.94,113.60 L246.44,114.09 L246.94,114.57 L247.44,115.06 L247.95,115.55 L248.45,116.04 L248.95,116.54 L249.45,117.03 L249.96,117.53 L250.46,118.03 L250.96,118.53 L251.46,119.03 L251.96,119.53 L252.47,120.04 L252.97,120.54 L253.47,121.05 L253.97,121.56 L254.47,122.07 L254.98,122.58 L255.48,123.10 L255.98,123.61 L256.48,124.13 L256.98,124.65 L257.49,125.17 L257.99,125.69 L258.49,126.22 L258.99,126.74 L259.49,127.27 L260.00,127.80 L260.50,128.33 L261.00,128.86 L261.50,129.40 L262.00,129.93 L262.51,130.47 L263.01,131.01 L263.51,131.55 L264.01,132.09 L264.51,132.63 L265.02,133.18 L265.52,133.72 L266.02,134.27 L266.52,134.82 L267.02,135.37 L267.53,135.92 L268.03,136.48 L268.53,137.03 L269.03,137.59 L269.53,138.15 L270.04,138.71 L270.54,139.27 L271.04,139.84 L271.54,140.40 L272.04,140.97 L272.55,141.54 L273.05,142.11 L273.55,142.68 L274.05,143.25 L274.55,143.83 L275.06,144.40 L275.56,144.98 L276.06,145.56 L276.56,146.14 L277.07,146.72 L277.57,147.31 L278.07,147.89 L278.57,148.48 L279.07,149.07 L279.58,149.66 L280.08,150.25 L280.58,150.84 L281.08,151.44 L281.58,152.03 L282.09,152.63 L282.59,153.23 L283.09,153.83 L283.59,154.43 L284.09,155.03 L284.60,155.64 L285.10,156.24 L285.60,156.85 L286.10,157.46 L286.60,158.07 L287.11,158.68 L287.61,159.30 L288.11,159.91 L288.61,160.53 L289.11,161.15 L289.62,161.77 L290.12,162.39 L290.62,163.01 L291.12,163.63 L291.62,164.26 L292.13,164.88 L292.63,165.51 L293.13,166.14 L293.63,166.77 L294.13,167.40 L294.64,168.04 L295.14,168.67 L295.64,169.31 L296.14,169.95 L296.64,170.58 L297.15,171.22 L297.65,171.87 L298.15,172.51 L298.65,173.15 L299.15,173.80 L299.66,174.44 L300.16,175.09 L300.66,175.74 L301.16,176.39 L301.66,177.04 L302.17,177.70 L302.67,178.35 L303.17,179.01 L303.67,179.66 L304.18,180.32 L304.68,180.98 L305.18,181.64 L305.68,182.30 L306.18,182.97 L306.69,183.63 L307.19,184.30 L307.69,184.96 L308.19,185.63 L308.69,186.30 L309.20,186.97 L309.70,187.64 L310.20,188.31 L310.70,188.99 L311.20,189.66 L311.71,190.34 L312.21,191.01 L312.71,191.69 L313.21,192.37 L313.71,193.05 L314.22,193.73 L314.72,194.41 L315.22,195.09 L315.72,195.77 L316.22,196.46 L316.73,197.14 L317.23,197.83 L317.73,198.52 L318.23,199.20 L318.73,199.89 L319.24,200.58 L319.74,201.27 L320.24,201.96 L320.74,202.65 L321.24,203.35 L321.75,204.04 L322.25,204.73 L322.75,205.43 L323.25,206.12 L323.75,206.82 L324.26,207.52 L324.76,208.21 L325.26,208.91 L325.76,209.61 L326.26,210.31 L326.77,211.00 L327.27,211.70 L327.77,212.40 L328.27,213.10 L328.77,213.80 L329.28,214.50 L329.78,215.20 L330.28,215.90 L330.78,216.60 L331.29,217.30 L331.79,218.01 L332.29,218.71 L332.79,219.41 L333.29,220.11 L333.80,220.81 L334.30,221.51 L334.80,222.21 L335.30,222.91 L335.80,223.61 L336.31,224.31 L336.81,225.01 L337.31,225.71 L337.81,226.40 L338.31,227.10 L338.82,227.80 L339.32,228.49 L339.82,229.19 L340.32,229.88 L340.82,230.57 L341.33,231.26 L341.83,231.95 L342.33,232.64 L342.83,233.33 L343.33,234.02 L343.84,234.70 L344.34,235.39 L344.84,236.07 L345.34,236.75 L345.84,237.42 L346.35,238.10 L346.85,238.77 L347.35,239.44 L347.85,240.11 L348.35,240.78 L348.86,241.44 L349.36,242.10 L349.86,242.76 L350.36,243.41 L350.86,244.06 L351.37,244.71 L351.87,245.35 L352.37,245.99 L352.87,246.62 L353.37,247.26 L353.88,247.88 L354.38,248.50 L354.88,249.12 L355.38,249.73 L355.88,250.34 L356.39,250.94 L356.89,251.53 L357.39,252.12 L357.89,252.70 L358.40,253.28 L358.90,253.85 L359.40,254.41 L359.90,254.96 L360.40,255.51 L360.91,256.05 L361.41,256.58 L361.91,257.10 L362.41,257.61 L362.91,258.11 L363.42,258.60 L363.92,259.08 L364.42,259.55 L364.92,260.01 L365.42,260.46 L365.93,260.90 L366.43,261.32 L366.93,261.73 L367.43,262.13 L367.93,262.52 L368.44,262.89 L368.94,263.24 L369.44,263.58 L369.94,263.91 L370.44,264.22 L370.95,264.51 L371.45,264.79 L371.95,265.05 L372.45,265.29 L372.95,265.52 L373.46,265.73 L373.96,265.91 L374.46,266.08 L374.96,266.23 L375.46,266.36 L375.97,266.48 L376.47,266.57 L376.97,266.64 L377.47,266.69 L377.97,266.72 L378.48,266.72 L378.98,266.71 L379.48,266.68 L379.98,266.62 L380.48,266.55 L380.99,266.45 L381.49,266.33 L381.99,266.19 L382.49,266.03 L383.00,265.85 L383.50,265.65 L384.00,265.43 L384.50,265.18 L385.00,264.92 L385.51,264.64 L386.01,264.33 L386.51,264.01 L387.01,263.67 L387.51,263.31 L388.02,262.93 L388.52,262.53 L389.02,262.12 L389.52,261.68 L390.02,261.23 L390.53,260.77 L391.03,260.28 L391.53,259.79 L392.03,259.27 L392.53,258.74 L393.04,258.20 L393.54,257.64 L394.04,257.06 L394.54,256.47 L395.04,255.87 L395.55,255.26 L396.05,254.63 L396.55,253.99 L397.05,253.34 L397.55,252.68 L398.06,252.00 L398.56,251.31 L399.06,250.62 L399.56,249.91 L400.06,249.19 L400.57,248.46 L401.07,247.72 L401.57,246.97 L402.07,246.22 L402.57,245.45 L403.08,244.68 L403.58,243.89 L404.08,243.10 L404.58,242.30 L405.08,241.49 L405.59,240.67 L406.09,239.85 L406.59,239.02 L407.09,238.18 L407.59,237.33 L408.10,236.48 L408.60,235.62 L409.10,234.76 L409.60,233.88 L410.11,233.00 L410.61,232.12 L411.11,231.23 L411.61,230.33 L412.11,229.43 L412.62,228.52 L413.12,227.61 L413.62,226.69 L414.12,225.76 L414.62,224.84 L415.13,223.90 L415.63,222.96 L416.13,222.02 L416.63,221.07 L417.13,220.11 L417.64,219.16 L418.14,218.19 L418.64,217.22 L419.14,216.25 L419.64,215.28 L420.15,214.30 L420.65,213.31 L421.15,212.32 L421.65,211.33 L422.15,210.33 L422.66,209.33 L423.16,208.33 L423.66,207.32 L424.16,206.31 L424.66,205.29 L425.17,204.27 L425.67,203.25 L426.17,202.22 L426.67,201.19 L427.17,200.16 L427.68,199.12 L428.18,198.08 L428.68,197.04 L429.18,195.99 L429.68,194.94 L430.19,193.89 L430.69,192.83 L431.19,191.77 L431.69,190.71 L432.19,189.64 L432.70,188.57 L433.20,187.50 L433.70,186.42 L434.20,185.34 L434.70,184.26 L435.21,183.18 L435.71,182.09 L436.21,181.00 L436.71,179.91 L437.22,178.82 L437.72,177.72 L438.22,176.62 L438.72,175.51 L439.22,174.41 L439.73,173.30 L440.23,172.19 L440.73,171.07 L441.23,169.95 L441.73,168.83 L442.24,167.71 L442.74,166.59 L443.24,165.46 L443.74,164.33 L444.24,163.20 L444.75,162.06 L445.25,160.93 L445.75,159.79 L446.25,158.64 L446.75,157.50 L447.26,156.35 L447.76,155.20 L448.26,154.05 L448.76,152.89 L449.26,151.74 L449.77,150.58 L450.27,149.42 L450.77,148.25 L451.27,147.09 L451.77,145.92 L452.28,144.75 L452.78,143.57 L453.28,142.40 L453.78,141.22 L454.28,140.04" fill="none" stroke="#0000ff" stroke-width="2.7" stroke-dasharray="2.0 5.7 6.8 6.118"/>
<path d="M103.36,-129.15 L104.01,-129.15 L104.66,-129.14 L105.31,-129.13 L105.96,-129.12 L106.61,-129.11 L107.26,-129.10 L107.92,-129.08 L108.57,-129.05 L109.22,-129.03 L109.87,-129.00 L110.52,-128.97 L111.17,-128.94 L111.82,-128.90 L112.47,-128.86 L113.12,-128.82 L113.77,-128.77 L114.42,-128.73 L115.07,-128.67 L115.73,-128.62 L116.38,-128.56 L117.03,-128.50 L117.68,-128.44 L118.33,-128.37 L118.98,-128.31 L119.63,-128.23 L120.28,-128.16 L120.93,-128.08 L121.58,-128.00 L122.23,-127.92 L122.88,-127.83 L123.53,-127.74 L124.19,-127.65 L124.84,-127.56 L125.49,-127.46 L126.14,-127.36 L126.79,-127.25 L127.44,-127.15 L128.09,-127.04 L128.74,-126.92 L129.39,-126.81 L130.04,-126.69 L130.69,-126.57 L131.34,-126.44 L131.99,-126.32 L132.65,-126.19 L133.30,-126.05 L133.95,-125.92 L134.60,-125.78 L135.25,-125.64 L135.90,-125.49 L136.55,-125.35 L137.20,-125.20 L137.85,-125.04 L138.50,-124.89 L139.15,-124.73 L139.80,-124.56 L140.46,-124.40 L141.11,-124.23 L141.76,-124.06 L142.41,-123.89 L143.06,-123.71 L143.71,-123.53 L144.36,-123.35 L145.01,-123.16 L145.66,-122.97 L146.31,-122.78 L146.96,-122.59 L147.61,-122.39 L148.26,-122.19 L148.92,-121.99 L149.57,-121.78 L150.22,-121.57 L150.87,-121.36 L151.52,-121.14 L152.17,-120.93 L152.82,-120.70 L153.47,-120.48 L154.12,-120.25 L154.77,-120.03 L155.42,-119.79 L156.07,-119.56 L156.72,-119.32 L157.38,-119.08 L158.03,-118.83 L158.68,-118.59 L159.33,-118.34 L159.98,-118.08 L160.63,-117.83 L161.28,-117.57 L161.93,-117.31 L162.58,-117.04 L163.23,-116.78 L163.88,-116.51 L164.53,-116.23 L165.19,-115.96 L165.84,-115.68 L166.49,-115.40 L167.14,-115.11 L167.79,-114.82 L168.44,-114.53 L169.09,-114.24 L169.74,-113.94 L170.39,-113.64 L171.04,-113.34 L171.69,-113.03 L172.34,-112.73 L172.99,-112.41 L173.65,-112.10 L174.30,-111.78 L174.95,-111.46 L175.60,-111.14 L176.25,-110.81 L176.90,-110.49 L177.55,-110.15 L178.20,-109.82 L178.85,-109.48 L179.50,-109.14 L180.15,-108.80 L180.80,-108.45 L181.45,-108.10 L182.11,-107.75 L182.76,-107.40 L183.41,-107.04 L184.06,-106.68 L184.71,-106.31 L185.36,-105.95 L186.01,-105.58 L186.66,-105.20 L187.31,-104.83 L187.96,-104.45 L188.61,-104.07 L189.26,-103.68 L189.92,-103.30 L190.57,-102.91 L191.22,-102.51 L191.87,-102.12 L192.52,-101.72 L193.17,-101.32 L193.82,-100.91 L194.47,-100.51 L195.12,-100.09 L195.77,-99.68 L196.42,-99.27 L197.07,-98.85 L197.72,-98.42 L198.38,-98.00 L199.03,-97.57 L199.68,-97.14 L200.33,-96.71 L200.98,-96.27 L201.63,-95.83 L202.28,-95.39 L202.93,-94.94 L203.58,-94.49 L204.23,-94.04 L204.88,-93.59 L205.53,-93.13 L206.18,-92.67 L206.84,-92.21 L207.49,-91.74 L208.14,-91.27 L208.79,-90.80 L209.44,-90.33 L210.09,-89.85 L210.74,-89.37 L211.39,-88.89 L212.04,-88.40 L212.69,-87.91 L213.34,-87.42 L213.99,-86.92 L214.65,-86.42 L215.30,-85.92 L215.95,-85.42 L216.60,-84.91 L217.25,-84.40 L217.90,-83.89 L218.55,-83.38 L219.20,-82.86 L219.85,-82.34 L220.50,-81.81 L221.15,-81.29 L221.80,-80.76 L222.45,-80.22 L223.11,-79.69 L223.76,-79.15 L224.41,-78.61 L225.06,-78.06 L225.71,-77.51 L226.36,-76.96 L227.01,-76.41 L227.66,-75.85 L228.31,-75.30 L228.96,-74.73 L229.61,-74.17 L230.26,-73.60 L230.91,-73.03 L231.57,-72.46 L232.22,-71.88 L232.87,-71.30 L233.52,-70.72 L234.17,-70.13 L234.82,-69.55 L235.47,-68.95 L236.12,-68.36 L236.77,-67.76 L237.42,-67.16 L238.07,-66.56 L238.72,-65.96 L239.38,-65.35 L240.03,-64.74 L240.68,-64.12 L241.33,-63.50 L241.98,-62.88 L242.63,-62.26 L243.28,-61.63 L243.93,-61.01 L244.58,-60.37 L245.23,-59.74 L245.88,-59.10 L246.53,-58.46 L247.18,-57.82 L247.84,-57.17 L248.49,-56.52 L249.14,-55.87 L249.79,-55.22 L250.44,-54.56 L251.09,-53.90 L251.74,-53.23 L252.39,-52.57 L253.04,-51.90 L253.69,-51.23 L254.34,-50.55 L254.99,-49.87 L255.64,-49.19 L256.30,-48.51 L256.95,-47.82 L257.60,-47.13 L258.25,-46.44 L258.90,-45.74 L259.55,-45.04 L260.20,-44.34 L260.85,-43.64 L261.50,-42.93 L262.15,-42.22 L262.80,-41.51 L263.45,-40.79 L264.11,-40.08 L264.76,-39.35 L265.41,-38.63 L266.06,-37.90 L266.71,-37.17 L267.36,-36.44 L268.01,-35.70 L268.66,-34.96 L269.31,-34.22 L269.96,-33.48 L270.61,-32.73 L271.26,-31.98 L271.91,-31.23 L272.57,-30.47 L273.22,-29.71 L273.87,-28.95 L274.52,-28.18 L275.17,-27.42 L275.82,-26.65 L276.47,-25.87 L277.12,-25.10 L277.77,-24.32 L278.42,-23.53 L279.07,-22.75 L279.72,-21.96 L280.37,-21.17 L281.03,-20.38 L281.68,-19.58 L282.33,-18.78 L282.98,-17.98 L283.63,-17.17 L284.28,-16.37 L284.93,-15.55 L285.58,-14.74 L286.23,-13.92 L286.88,-13.10 L287.53,-12.28 L288.18,-11.46 L288.84,-10.63 L289.49,-9.80 L290.14,-8.96 L290.79,-8.13 L291.44,-7.29 L292.09,-6.44 L292.74,-5.60 L293.39,-4.75 L294.04,-3.90 L294.69,-3.05 L295.34,-2.19 L295.99,-1.33 L296.64,-0.47 L297.30,0.40 L297.95,1.27 L298.60,2.14 L299.25,3.01 L299.90,3.89 L300.55,4.77 L301.20,5.65 L301.85,6.54 L302.50,7.43 L303.15,8.32 L303.80,9.21 L304.45,10.11 L305.10,11.01 L305.76,11.91 L306.41,12.81 L307.06,13.72 L307.71,14.63 L308.36,15.55 L309.01,16.46 L309.66,17.38 L310.31,18.31 L310.96,19.23 L311.61,20.16 L312.26,21.09 L312.91,22.02 L313.57,22.96 L314.22,23.90 L314.87,24.84 L315.52,25.79 L316.17,26.74 L316.82,27.69 L317.47,28.64 L318.12,29.60 L318.77,30.56 L319.42,31.52 L320.07,32.48 L320.72,33.45 L321.37,34.42 L322.03,35.39 L322.68,36.37 L323.33,37.35 L323.98,38.33 L324.63,39.32 L325.28,40.30 L325.93,41.29 L326.58,42.29 L327.23,43.28 L327.88,44.28 L328.53,45.28 L329.18,46.29 L329.83,47.29 L330.49,48.30 L331.14,49.31 L331.79,50.33 L332.44,51.35 L333.09,52.37 L333.74,53.39 L334.39,54.42 L335.04,55.45 L335.69,56.48 L336.34,57.51 L336.99,58.55 L337.64,59.59 L338.30,60.63 L338.95,61.68 L339.60,62.73 L340.25,63.78 L340.90,64.83 L341.55,65.89 L342.20,66.95 L342.85,68.01 L343.50,69.08 L344.15,70.15 L344.80,71.22 L345.45,72.29 L346.10,73.36 L346.76,74.44 L347.41,75.52 L348.06,76.61 L348.71,77.69 L349.36,78.78 L350.01,79.88 L350.66,80.97 L351.31,82.07 L351.96,83.17 L352.61,84.27 L353.26,85.38 L353.91,86.48 L354.56,87.60 L355.22,88.71 L355.87,89.83 L356.52,90.94 L357.17,92.07 L357.82,93.19 L358.47,94.32 L359.12,95.45 L359.77,96.58 L360.42,97.71 L361.07,98.85 L361.72,99.99 L362.37,101.13 L363.03,102.28 L363.68,103.42 L364.33,104.57 L364.98,105.73 L365.63,106.88 L366.28,108.04 L366.93,109.20 L367.58,110.36 L368.23,111.53 L368.88,112.70 L369.53,113.87 L370.18,115.04 L370.83,116.21 L371.49,117.39 L372.14,118.57 L372.79,119.75 L373.44,120.94 L374.09,122.13 L374.74,123.32 L375.39,124.51 L376.04,125.71 L376.69,126.90 L377.34,128.10 L377.99,129.30 L378.64,130.51 L379.29,131.72 L379.95,132.93 L380.60,134.14 L381.25,135.35 L381.90,136.57 L382.55,137.78 L383.20,139.01 L383.85,140.23 L384.50,141.45 L385.15,142.68 L385.80,143.91 L386.45,145.14 L387.10,146.37 L387.76,147.61 L388.41,148.85 L389.06,150.09 L389.71,151.33 L390.36,152.57 L391.01,153.82 L391.66,155.07 L392.31,156.32 L392.96,157.57 L393.61,158.82 L394.26,160.08 L394.91,161.34 L395.56,162.60 L396.22,163.86 L396.87,165.12 L397.52,166.39 L398.17,167.65 L398.82,168.92 L399.47,170.19 L400.12,171.46 L400.77,172.73 L401.42,174.01 L402.07,175.28 L402.72,176.56 L403.37,177.84 L404.02,179.12 L404.68,180.40 L405.33,181.68 L405.98,182.96 L406.63,184.25 L407.28,185.53 L407.93,186.82 L408.58,188.10 L409.23,189.39 L409.88,190.68 L410.53,191.97 L411.18,193.26 L411.83,194.55 L412.49,195.84 L413.14,197.13 L413.79,198.42 L414.44,199.71 L415.09,201.00 L415.74,202.29 L416.39,203.58 L417.04,204.87 L417.69,206.15 L418.34,207.44 L418.99,208.73 L419.64,210.02 L420.29,211.30 L420.95,212.58 L421.60,213.87 L422.25,215.15 L422.90,216.42 L423.55,217.70 L424.20,218.97 L424.85,220.24 L425.50,221.51 L426.15,222.78 L426.80,224.04 L427.45,225.30 L428.10,226.55 L428.75,227.80 L429.41,229.04 L430.06,230.28 L430.71,231.52 L431.36,232.74 L432.01,233.96 L432.66,235.18 L433.31,236.38 L433.96,237.58 L434.61,238.77 L435.26,239.95 L435.91,241.12 L436.56,242.28 L437.22,243.43 L437.87,244.57 L438.52,245.69 L439.17,246.80 L439.82,247.89 L440.47,248.97 L441.12,250.03 L441.77,251.07 L442.42,252.10 L443.07,253.10 L443.72,254.08 L444.37,255.04 L445.02,255.97 L445.68,256.88 L446.33,257.76 L446.98,258.61 L447.63,259.42 L448.28,260.21 L448.93,260.96 L449.58,261.67 L450.23,262.34 L450.88,262.97 L451.53,263.56 L452.18,264.11 L452.83,264.61 L453.48,265.06 L454.14,265.45 L454.79,265.80 L455.44,266.10 L456.09,266.33 L456.74,266.52 L457.39,266.64 L458.04,266.71 L458.69,266.72 L459.34,266.67 L459.99,266.56 L460.64,266.40 L461.29,266.17 L461.95,265.89 L462.60,265.55 L463.25,265.15 L463.90,264.70 L464.55,264.19 L465.20,263.63 L465.85,263.03 L466.50,262.37 L467.15,261.66 L467.80,260.91 L468.45,260.12 L469.10,259.28 L469.75,258.40 L470.41,257.49 L471.06,256.53 L471.71,255.54 L472.36,254.52 L473.01,253.47 L473.66,252.38 L474.31,251.27 L474.96,250.12 L475.61,248.96 L476.26,247.76 L476.91,246.54 L477.56,245.30 L478.21,244.04 L478.87,242.76 L479.52,241.45 L480.17,240.13 L480.82,238.79 L481.47,237.43 L482.12,236.05 L482.77,234.66 L483.42,233.26 L484.07,231.83 L484.72,230.40 L485.37,228.95 L486.02,227.49 L486.68,226.01 L487.33,224.53 L487.98,223.03 L488.63,221.52 L489.28,220.00 L489.93,218.47 L490.58,216.93 L491.23,215.38 L491.88,213.82 L492.53,212.25 L493.18,210.67 L493.83,209.09 L494.48,207.49 L495.14,205.89 L495.79,204.28 L496.44,202.66 L497.09,201.04 L497.74,199.40 L498.39,197.76 L499.04,196.11 L499.69,194.46 L500.34,192.80 L500.99,191.13 L501.64,189.46 L502.29,187.78 L502.94,186.09 L503.60,184.40 L504.25,182.70 L504.90,181.00 L505.55,179.29 L506.20,177.58 L506.85,175.86 L507.50,174.13 L508.15,172.40 L508.80,170.66 L509.45,168.92 L510.10,167.18 L510.75,165.43 L511.41,163.67 L512.06,161.91 L512.71,160.14 L513.36,158.37 L514.01,156.60 L514.66,154.82 L515.31,153.03 L515.96,151.24 L516.61,149.45 L517.26,147.65 L517.91,145.85 L518.56,144.04 L519.21,142.23 L519.87,140.42 L520.52,138.60 L521.17,136.78 L521.82,134.95 L522.47,133.12 L523.12,131.28 L523.77,129.44 L524.42,127.60 L525.07,125.75 L525.72,123.90 L526.37,122.04 L527.02,120.18 L527.67,118.32 L528.33,116.45 L528.98,114.58 L529.63,112.70 L530.28,110.83 L530.93,108.94 L531.58,107.06 L532.23,105.17 L532.88,103.27 L533.53,101.38 L534.18,99.47 L534.83,97.57 L535.48,95.66 L536.14,93.75 L536.79,91.83 L537.44,89.91 L538.09,87.99 L538.74,86.07 L539.39,84.14 L540.04,82.20 L540.69,80.27 L541.34,78.33 L541.99,76.38 L542.64,74.43 L543.29,72.48 L543.94,70.53 L544.60,68.57 L545.25,66.61 L545.90,64.65 L546.55,62.68 L547.20,60.71 L547.85,58.73 L548.50,56.75 L549.15,54.77 L549.80,52.79 L550.45,50.80 L551.10,48.81 L551.75,46.81 L552.40,44.82 L553.06,42.81 L553.71,40.81 L554.36,38.80 L555.01,36.79 L555.66,34.78 L556.31,32.76 L556.96,30.74 L557.61,28.71 L558.26,26.68" fill="none" stroke="#00ff00" stroke-width="2.7" stroke-dasharray="2.3 2.44"/>
<path d="M200.84,214.53 L201.27,215.27 L201.71,216.00 L202.14,216.73 L202.58,217.45 L203.01,218.17 L203.45,218.88 L203.88,219.58 L204.32,220.28 L204.75,220.98 L205.19,221.67 L205.62,222.35 L206.06,223.03 L206.49,223.71 L206.92,224.38 L207.36,225.04 L207.79,225.70 L208.23,226.35 L208.66,227.00 L209.10,227.64 L209.53,228.28 L209.97,228.91 L210.40,229.54 L210.84,230.16 L211.27,230.78 L211.71,231.39 L212.14,231.99 L212.58,232.60 L213.01,233.19 L213.44,233.78 L213.88,234.37 L214.31,234.95 L214.75,235.52 L215.18,236.09 L215.62,236.66 L216.05,237.21 L216.49,237.77 L216.92,238.32 L217.36,238.86 L217.79,239.40 L218.23,239.93 L218.66,240.46 L219.10,240.98 L219.53,241.50 L219.97,242.01 L220.40,242.52 L220.83,243.02 L221.27,243.51 L221.70,244.00 L222.14,244.49 L222.57,244.97 L223.01,245.44 L223.44,245.91 L223.88,246.38 L224.31,246.84 L224.75,247.29 L225.18,247.74 L225.62,248.18 L226.05,248.62 L226.49,249.06 L226.92,249.48 L227.36,249.91 L227.79,250.32 L228.22,250.74 L228.66,251.14 L229.09,251.54 L229.53,251.94 L229.96,252.33 L230.40,252.72 L230.83,253.10 L231.27,253.47 L231.70,253.84 L232.14,254.21 L232.57,254.57 L233.01,254.92 L233.44,255.27 L233.88,255.62 L234.31,255.95 L234.74,256.29 L235.18,256.62 L235.61,256.94 L236.05,257.26 L236.48,257.57 L236.92,257.88 L237.35,258.18 L237.79,258.48 L238.22,258.77 L238.66,259.05 L239.09,259.33 L239.53,259.61 L239.96,259.88 L240.40,260.15 L240.83,260.41 L241.27,260.66 L241.70,260.91 L242.13,261.15 L242.57,261.39 L243.00,261.63 L243.44,261.86 L243.87,262.08 L244.31,262.30 L244.74,262.51 L245.18,262.72 L245.61,262.92 L246.05,263.12 L246.48,263.31 L246.92,263.50 L247.35,263.68 L247.79,263.85 L248.22,264.02 L248.65,264.19 L249.09,264.35 L249.52,264.51 L249.96,264.66 L250.39,264.80 L250.83,264.94 L251.26,265.07 L251.70,265.20 L252.13,265.33 L252.57,265.44 L253.00,265.56 L253.44,265.67 L253.87,265.77 L254.31,265.87 L254.74,265.96 L255.18,266.05 L255.61,266.13 L256.04,266.20 L256.48,266.28 L256.91,266.34 L257.35,266.40 L257.78,266.46 L258.22,266.51 L258.65,266.55 L259.09,266.59 L259.52,266.63 L259.96,266.66 L260.39,266.68 L260.83,266.70 L261.26,266.71 L261.70,266.72 L262.13,266.72 L262.56,266.72 L263.00,266.72 L263.43,266.70 L263.87,266.68 L264.30,266.66 L264.74,266.63 L265.17,266.60 L265.61,266.56 L266.04,266.52 L266.48,266.47 L266.91,266.41 L267.35,266.35 L267.78,266.29 L268.22,266.22 L268.65,266.14 L269.09,266.06 L269.52,265.98 L269.95,265.88 L270.39,265.79 L270.82,265.69 L271.26,265.58 L271.69,265.47 L272.13,265.35 L272.56,265.23 L273.00,265.10 L273.43,264.96 L273.87,264.83 L274.30,264.68 L274.74,264.53 L275.17,264.38 L275.61,264.22 L276.04,264.06 L276.47,263.89 L276.91,263.71 L277.34,263.53 L277.78,263.34 L278.21,263.15 L278.65,262.96 L279.08,262.76 L279.52,262.55 L279.95,262.34 L280.39,262.12 L280.82,261.90 L281.26,261.67 L281.69,261.44 L282.13,261.20 L282.56,260.96 L283.00,260.71 L283.43,260.45 L283.86,260.19 L284.30,259.93 L284.73,259.66 L285.17,259.39 L285.60,259.11 L286.04,258.82 L286.47,258.53 L286.91,258.23 L287.34,257.93 L287.78,257.63 L288.21,257.32 L288.65,257.00 L289.08,256.68 L289.52,256.35 L289.95,256.02 L290.38,255.68 L290.82,255.34 L291.25,254.99 L291.69,254.63 L292.12,254.28 L292.56,253.91 L292.99,253.54 L293.43,253.17 L293.86,252.79 L294.30,252.40 L294.73,252.01 L295.17,251.62 L295.60,251.22 L296.04,250.81 L296.47,250.40 L296.91,249.98 L297.34,249.56 L297.77,249.14 L298.21,248.70 L298.64,248.27 L299.08,247.82 L299.51,247.38 L299.95,246.92 L300.38,246.46 L300.82,246.00 L301.25,245.53 L301.69,245.06 L302.12,244.58 L302.56,244.09 L302.99,243.60 L303.43,243.11 L303.86,242.61 L304.29,242.10 L304.73,241.59 L305.16,241.08 L305.60,240.56 L306.03,240.03 L306.47,239.50 L306.90,238.96 L307.34,238.42 L307.77,237.87 L308.21,237.32 L308.64,236.76 L309.08,236.20 L309.51,235.63 L309.95,235.05 L310.38,234.48 L310.82,233.89 L311.25,233.30 L311.68,232.71 L312.12,232.11 L312.55,231.50 L312.99,230.89 L313.42,230.28 L313.86,229.66 L314.29,229.03 L314.73,228.40 L315.16,227.76 L315.60,227.12 L316.03,226.47 L316.47,225.82 L316.90,225.16 L317.34,224.50 L317.77,223.83 L318.21,223.16 L318.64,222.48 L319.07,221.80 L319.51,221.11 L319.94,220.41 L320.38,219.71 L320.81,219.01 L321.25,218.30 L321.68,217.58 L322.12,216.86 L322.55,216.14 L322.99,215.41 L323.42,214.67 L323.86,213.93 L324.29,213.18 L324.73,212.43 L325.16,211.67 L325.59,210.91 L326.03,210.14 L326.46,209.37 L326.90,208.59 L327.33,207.81 L327.77,207.02 L328.20,206.22 L328.64,205.43 L329.07,204.62 L329.51,203.81 L329.94,203.00 L330.38,202.18 L330.81,201.35" fill="none" stroke="#ff8000" stroke-width="3.4" stroke-dasharray="6.4 6.29"/>
<path d="M265.82,159.61 L266.26,161.11 L266.69,162.59 L267.13,164.06 L267.56,165.52 L268.00,166.98 L268.43,168.42 L268.87,169.85 L269.30,171.27 L269.74,172.68 L270.17,174.08 L270.61,175.47 L271.04,176.84 L271.48,178.21 L271.91,179.57 L272.35,180.92 L272.78,182.25 L273.21,183.58 L273.65,184.89 L274.08,186.20 L274.52,187.49 L274.95,188.78 L275.39,190.05 L275.82,191.31 L276.26,192.57 L276.69,193.81 L277.13,195.04 L277.56,196.26 L278.00,197.47 L278.43,198.67 L278.87,199.86 L279.30,201.04 L279.74,202.21 L280.17,203.37 L280.60,204.51 L281.04,205.65 L281.47,206.78 L281.91,207.89 L282.34,209.00 L282.78,210.09 L283.21,211.18 L283.65,212.25 L284.08,213.32 L284.52,214.37 L284.95,215.41 L285.39,216.44 L285.82,217.47 L286.26,218.48 L286.69,219.48 L287.12,220.47 L287.56,221.45 L287.99,222.42 L288.43,223.38 L288.86,224.32 L289.30,225.26 L289.73,226.19 L290.17,227.11 L290.60,228.01 L291.04,228.91 L291.47,229.79 L291.91,230.67 L292.34,231.53 L292.78,232.39 L293.21,233.23 L293.65,234.06 L294.08,234.89 L294.51,235.70 L294.95,236.50 L295.38,237.29 L295.82,238.07 L296.25,238.84 L296.69,239.60 L297.12,240.35 L297.56,241.09 L297.99,241.82 L298.43,242.53 L298.86,243.24 L299.30,243.94 L299.73,244.62 L300.17,245.30 L300.60,245.96 L301.03,246.62 L301.47,247.26 L301.90,247.90 L302.34,248.52 L302.77,249.13 L303.21,249.73 L303.64,250.33 L304.08,250.91 L304.51,251.48 L304.95,252.04 L305.38,252.59 L305.82,253.13 L306.25,253.66 L306.69,254.17 L307.12,254.68 L307.56,255.18 L307.99,255.67 L308.42,256.14 L308.86,256.61 L309.29,257.06 L309.73,257.51 L310.16,257.94 L310.60,258.37 L311.03,258.78 L311.47,259.18 L311.90,259.58 L312.34,259.96 L312.77,260.33 L313.21,260.69 L313.64,261.04 L314.08,261.38 L314.51,261.71 L314.94,262.03 L315.38,262.34 L315.81,262.64 L316.25,262.92 L316.68,263.20 L317.12,263.47 L317.55,263.72 L317.99,263.97 L318.42,264.20 L318.86,264.43 L319.29,264.64 L319.73,264.85 L320.16,265.04 L320.60,265.22 L321.03,265.40 L321.47,265.56 L321.90,265.71 L322.33,265.85 L322.77,265.98 L323.20,266.10 L323.64,266.21 L324.07,266.31 L324.51,266.40 L324.94,266.47 L325.38,266.54 L325.81,266.60 L326.25,266.64 L326.68,266.68 L327.12,266.71 L327.55,266.72 L327.99,266.72 L328.42,266.72 L328.85,266.70 L329.29,266.67 L329.72,266.64 L330.16,266.59 L330.59,266.53 L331.03,266.46 L331.46,266.38 L331.90,266.29 L332.33,266.19 L332.77,266.08 L333.20,265.96 L333.64,265.83 L334.07,265.69 L334.51,265.53 L334.94,265.37 L335.38,265.20 L335.81,265.01 L336.24,264.82 L336.68,264.61 L337.11,264.40 L337.55,264.17 L337.98,263.93 L338.42,263.68 L338.85,263.43 L339.29,263.16 L339.72,262.88 L340.16,262.59 L340.59,262.29 L341.03,261.98 L341.46,261.66 L341.90,261.33 L342.33,260.99 L342.76,260.64 L343.20,260.27 L343.63,259.90 L344.07,259.52 L344.50,259.12 L344.94,258.72 L345.37,258.30 L345.81,257.88 L346.24,257.44 L346.68,256.99 L347.11,256.54 L347.55,256.07 L347.98,255.59 L348.42,255.10 L348.85,254.60 L349.29,254.10 L349.72,253.58 L350.15,253.04 L350.59,252.50 L351.02,251.95 L351.46,251.39 L351.89,250.82 L352.33,250.24 L352.76,249.64 L353.20,249.04 L353.63,248.42 L354.07,247.80 L354.50,247.16 L354.94,246.52 L355.37,245.86 L355.81,245.20 L356.24,244.52 L356.67,243.83 L357.11,243.13 L357.54,242.42 L357.98,241.70 L358.41,240.97 L358.85,240.23 L359.28,239.48 L359.72,238.72 L360.15,237.95 L360.59,237.17 L361.02,236.38 L361.46,235.57 L361.89,234.76 L362.33,233.94 L362.76,233.10 L363.20,232.26 L363.63,231.40 L364.06,230.53 L364.50,229.66 L364.93,228.77 L365.37,227.87 L365.80,226.97 L366.24,226.05 L366.67,225.12 L367.11,224.18 L367.54,223.23 L367.98,222.27 L368.41,221.30 L368.85,220.32 L369.28,219.32 L369.72,218.32 L370.15,217.31 L370.59,216.29 L371.02,215.25 L371.45,214.21 L371.89,213.15 L372.32,212.09 L372.76,211.01 L373.19,209.93 L373.63,208.83 L374.06,207.72 L374.50,206.60 L374.93,205.48 L375.37,204.34 L375.80,203.19 L376.24,202.03 L376.67,200.86 L377.11,199.68 L377.54,198.49 L377.97,197.29 L378.41,196.07 L378.84,194.85 L379.28,193.62 L379.71,192.37 L380.15,191.12 L380.58,189.86 L381.02,188.58 L381.45,187.30 L381.89,186.00 L382.32,184.69 L382.76,183.38 L383.19,182.05 L383.63,180.71 L384.06,179.36 L384.50,178.00 L384.93,176.63 L385.36,175.25 L385.80,173.86 L386.23,172.46 L386.67,171.05 L387.10,169.63 L387.54,168.20 L387.97,166.75 L388.41,165.30 L388.84,163.84 L389.28,162.36 L389.71,160.88 L390.15,159.38 L390.58,157.88 L391.02,156.36 L391.45,154.83 L391.88,153.30 L392.32,151.75 L392.75,150.19 L393.19,148.62 L393.62,147.04 L394.06,145.45 L394.49,143.85 L394.93,142.24 L395.36,140.62 L395.80,138.99" fill="none" stroke="#ff8000" stroke-width="3.4" stroke-dasharray="6.4 6.29"/>
<path d="M324.31,144.82 L324.68,146.48 L325.05,148.13 L325.42,149.76 L325.79,151.39 L326.16,153.00 L326.53,154.61 L326.90,156.20 L327.27,157.78 L327.64,159.34 L328.01,160.90 L328.38,162.45 L328.75,163.98 L329.12,165.50 L329.49,167.01 L329.85,168.51 L330.22,170.00 L330.59,171.48 L330.96,172.94 L331.33,174.40 L331.70,175.84 L332.07,177.27 L332.44,178.69 L332.81,180.10 L333.18,181.50 L333.55,182.89 L333.92,184.26 L334.29,185.62 L334.66,186.98 L335.03,188.32 L335.40,189.65 L335.77,190.96 L336.14,192.27 L336.51,193.57 L336.87,194.85 L337.24,196.12 L337.61,197.38 L337.98,198.63 L338.35,199.87 L338.72,201.10 L339.09,202.31 L339.46,203.52 L339.83,204.71 L340.20,205.89 L340.57,207.06 L340.94,208.22 L341.31,209.37 L341.68,210.51 L342.05,211.63 L342.42,212.74 L342.79,213.85 L343.16,214.94 L343.53,216.02 L343.90,217.08 L344.26,218.14 L344.63,219.19 L345.00,220.22 L345.37,221.24 L345.74,222.25 L346.11,223.25 L346.48,224.24 L346.85,225.22 L347.22,226.18 L347.59,227.14 L347.96,228.08 L348.33,229.01 L348.70,229.93 L349.07,230.84 L349.44,231.74 L349.81,232.63 L350.18,233.50 L350.55,234.36 L350.92,235.22 L351.28,236.06 L351.65,236.89 L352.02,237.70 L352.39,238.51 L352.76,239.31 L353.13,240.09 L353.50,240.86 L353.87,241.62 L354.24,242.37 L354.61,243.11 L354.98,243.84 L355.35,244.55 L355.72,245.26 L356.09,245.95 L356.46,246.63 L356.83,247.30 L357.20,247.96 L357.57,248.61 L357.94,249.24 L358.31,249.87 L358.67,250.48 L359.04,251.08 L359.41,251.67 L359.78,252.25 L360.15,252.82 L360.52,253.38 L360.89,253.92 L361.26,254.46 L361.63,254.98 L362.00,255.49 L362.37,255.99 L362.74,256.48 L363.11,256.96 L363.48,257.42 L363.85,257.87 L364.22,258.32 L364.59,258.75 L364.96,259.17 L365.33,259.58 L365.69,259.98 L366.06,260.36 L366.43,260.74 L366.80,261.10 L367.17,261.45 L367.54,261.79 L367.91,262.12 L368.28,262.44 L368.65,262.75 L369.02,263.04 L369.39,263.32 L369.76,263.60 L370.13,263.86 L370.50,264.11 L370.87,264.35 L371.24,264.57 L371.61,264.79 L371.98,264.99 L372.35,265.18 L372.72,265.37 L373.08,265.54 L373.45,265.69 L373.82,265.84 L374.19,265.98 L374.56,266.10 L374.93,266.22 L375.30,266.32 L375.67,266.41 L376.04,266.49 L376.41,266.56 L376.78,266.61 L377.15,266.66 L377.52,266.69 L377.89,266.71 L378.26,266.72 L378.63,266.72 L379.00,266.71 L379.37,266.69 L379.74,266.65 L380.10,266.61 L380.47,266.55 L380.84,266.48 L381.21,266.40 L381.58,266.31 L381.95,266.21 L382.32,266.09 L382.69,265.97 L383.06,265.83 L383.43,265.68 L383.80,265.52 L384.17,265.35 L384.54,265.17 L384.91,264.98 L385.28,264.77 L385.65,264.56 L386.02,264.33 L386.39,264.09 L386.76,263.84 L387.12,263.58 L387.49,263.30 L387.86,263.02 L388.23,262.72 L388.60,262.42 L388.97,262.10 L389.34,261.77 L389.71,261.43 L390.08,261.07 L390.45,260.71 L390.82,260.33 L391.19,259.95 L391.56,259.55 L391.93,259.14 L392.30,258.72 L392.67,258.28 L393.04,257.84 L393.41,257.39 L393.78,256.92 L394.15,256.44 L394.51,255.95 L394.88,255.45 L395.25,254.94 L395.62,254.42 L395.99,253.88 L396.36,253.34 L396.73,252.78 L397.10,252.21 L397.47,251.63 L397.84,251.04 L398.21,250.44 L398.58,249.82 L398.95,249.20 L399.32,248.56 L399.69,247.91 L400.06,247.25 L400.43,246.58 L400.80,245.90 L401.17,245.20 L401.53,244.50 L401.90,243.78 L402.27,243.06 L402.64,242.32 L403.01,241.57 L403.38,240.80 L403.75,240.03 L404.12,239.25 L404.49,238.45 L404.86,237.64 L405.23,236.82 L405.60,235.99 L405.97,235.15 L406.34,234.30 L406.71,233.43 L407.08,232.56 L407.45,231.67 L407.82,230.77 L408.19,229.86 L408.56,228.94 L408.92,228.01 L409.29,227.07 L409.66,226.11 L410.03,225.15 L410.40,224.17 L410.77,223.18 L411.14,222.18 L411.51,221.17 L411.88,220.14 L412.25,219.11 L412.62,218.06 L412.99,217.00 L413.36,215.94 L413.73,214.86 L414.10,213.76 L414.47,212.66 L414.84,211.55 L415.21,210.42 L415.58,209.28 L415.94,208.14 L416.31,206.98 L416.68,205.81 L417.05,204.62 L417.42,203.43 L417.79,202.22 L418.16,201.01 L418.53,199.78 L418.90,198.54 L419.27,197.29 L419.64,196.03 L420.01,194.75 L420.38,193.47 L420.75,192.17 L421.12,190.87 L421.49,189.55 L421.86,188.22 L422.23,186.88 L422.60,185.52 L422.97,184.16 L423.33,182.78 L423.70,181.40 L424.07,180.00 L424.44,178.59 L424.81,177.17 L425.18,175.73 L425.55,174.29 L425.92,172.83 L426.29,171.37 L426.66,169.89 L427.03,168.40 L427.40,166.90 L427.77,165.39 L428.14,163.86 L428.51,162.33 L428.88,160.78 L429.25,159.23 L429.62,157.66 L429.99,156.08 L430.35,154.49 L430.72,152.88 L431.09,151.27 L431.46,149.64 L431.83,148.01 L432.20,146.36 L432.57,144.70 L432.94,143.03 L433.31,141.34 L433.68,139.65 L434.05,137.94 L434.42,136.23 L434.79,134.50" fill="none" stroke="#ff8000" stroke-width="3.4" stroke-dasharray="6.4 6.29"/>
<path d="M415.29,137.38 L415.59,139.13 L415.88,140.87 L416.17,142.60 L416.47,144.31 L416.76,146.02 L417.05,147.71 L417.35,149.39 L417.64,151.06 L417.93,152.72 L418.23,154.36 L418.52,155.99 L418.81,157.61 L419.11,159.22 L419.40,160.82 L419.69,162.40 L419.99,163.98 L420.28,165.54 L420.57,167.09 L420.87,168.62 L421.16,170.15 L421.45,171.66 L421.75,173.16 L422.04,174.65 L422.33,176.13 L422.63,177.59 L422.92,179.05 L423.22,180.49 L423.51,181.92 L423.80,183.34 L424.10,184.74 L424.39,186.13 L424.68,187.52 L424.98,188.89 L425.27,190.24 L425.56,191.59 L425.86,192.92 L426.15,194.24 L426.44,195.55 L426.74,196.85 L427.03,198.14 L427.32,199.41 L427.62,200.67 L427.91,201.93 L428.20,203.16 L428.50,204.39 L428.79,205.60 L429.08,206.81 L429.38,208.00 L429.67,209.18 L429.96,210.34 L430.26,211.50 L430.55,212.64 L430.84,213.77 L431.14,214.89 L431.43,216.00 L431.72,217.09 L432.02,218.17 L432.31,219.24 L432.60,220.30 L432.90,221.35 L433.19,222.39 L433.48,223.41 L433.78,224.42 L434.07,225.42 L434.36,226.41 L434.66,227.38 L434.95,228.35 L435.25,229.30 L435.54,230.24 L435.83,231.17 L436.13,232.08 L436.42,232.98 L436.71,233.88 L437.01,234.76 L437.30,235.62 L437.59,236.48 L437.89,237.32 L438.18,238.16 L438.47,238.98 L438.77,239.79 L439.06,240.58 L439.35,241.37 L439.65,242.14 L439.94,242.90 L440.23,243.65 L440.53,244.38 L440.82,245.11 L441.11,245.82 L441.41,246.52 L441.70,247.21 L441.99,247.89 L442.29,248.55 L442.58,249.21 L442.87,249.85 L443.17,250.48 L443.46,251.09 L443.75,251.70 L444.05,252.29 L444.34,252.87 L444.63,253.44 L444.93,254.00 L445.22,254.54 L445.51,255.08 L445.81,255.60 L446.10,256.11 L446.39,256.61 L446.69,257.09 L446.98,257.57 L447.28,258.03 L447.57,258.48 L447.86,258.92 L448.16,259.34 L448.45,259.76 L448.74,260.16 L449.04,260.55 L449.33,260.93 L449.62,261.29 L449.92,261.65 L450.21,261.99 L450.50,262.32 L450.80,262.64 L451.09,262.94 L451.38,263.24 L451.68,263.52 L451.97,263.79 L452.26,264.05 L452.56,264.30 L452.85,264.53 L453.14,264.76 L453.44,264.97 L453.73,265.17 L454.02,265.35 L454.32,265.53 L454.61,265.69 L454.90,265.84 L455.20,265.98 L455.49,266.11 L455.78,266.22 L456.08,266.33 L456.37,266.42 L456.66,266.50 L456.96,266.57 L457.25,266.62 L457.54,266.66 L457.84,266.70 L458.13,266.72 L458.42,266.72 L458.72,266.72 L459.01,266.70 L459.31,266.68 L459.60,266.64 L459.89,266.58 L460.19,266.52 L460.48,266.45 L460.77,266.36 L461.07,266.26 L461.36,266.15 L461.65,266.02 L461.95,265.89 L462.24,265.74 L462.53,265.58 L462.83,265.41 L463.12,265.23 L463.41,265.03 L463.71,264.82 L464.00,264.60 L464.29,264.37 L464.59,264.13 L464.88,263.88 L465.17,263.61 L465.47,263.33 L465.76,263.04 L466.05,262.74 L466.35,262.42 L466.64,262.09 L466.93,261.76 L467.23,261.41 L467.52,261.04 L467.81,260.67 L468.11,260.28 L468.40,259.88 L468.69,259.47 L468.99,259.05 L469.28,258.62 L469.57,258.17 L469.87,257.71 L470.16,257.24 L470.45,256.76 L470.75,256.27 L471.04,255.76 L471.34,255.24 L471.63,254.72 L471.92,254.17 L472.22,253.62 L472.51,253.05 L472.80,252.48 L473.10,251.89 L473.39,251.29 L473.68,250.67 L473.98,250.05 L474.27,249.41 L474.56,248.76 L474.86,248.10 L475.15,247.43 L475.44,246.74 L475.74,246.05 L476.03,245.34 L476.32,244.62 L476.62,243.88 L476.91,243.14 L477.20,242.38 L477.50,241.61 L477.79,240.83 L478.08,240.04 L478.38,239.24 L478.67,238.42 L478.96,237.59 L479.26,236.75 L479.55,235.90 L479.84,235.03 L480.14,234.16 L480.43,233.27 L480.72,232.37 L481.02,231.46 L481.31,230.53 L481.60,229.60 L481.90,228.65 L482.19,227.69 L482.48,226.72 L482.78,225.74 L483.07,224.74 L483.37,223.73 L483.66,222.71 L483.95,221.68 L484.25,220.64 L484.54,219.58 L484.83,218.52 L485.13,217.44 L485.42,216.35 L485.71,215.24 L486.01,214.13 L486.30,213.00 L486.59,211.86 L486.89,210.71 L487.18,209.55 L487.47,208.37 L487.77,207.19 L488.06,205.99 L488.35,204.78 L488.65,203.55 L488.94,202.32 L489.23,201.07 L489.53,199.82 L489.82,198.55 L490.11,197.26 L490.41,195.97 L490.70,194.66 L490.99,193.34 L491.29,192.01 L491.58,190.67 L491.87,189.32 L492.17,187.95 L492.46,186.57 L492.75,185.19 L493.05,183.78 L493.34,182.37 L493.63,180.94 L493.93,179.51 L494.22,178.06 L494.51,176.60 L494.81,175.12 L495.10,173.64 L495.40,172.14 L495.69,170.63 L495.98,169.11 L496.28,167.58 L496.57,166.03 L496.86,164.47 L497.16,162.91 L497.45,161.32 L497.74,159.73 L498.04,158.13 L498.33,156.51 L498.62,154.88 L498.92,153.24 L499.21,151.59 L499.50,149.92 L499.80,148.25 L500.09,146.56 L500.38,144.86 L500.68,143.15 L500.97,141.42 L501.26,139.69 L501.56,137.94 L501.85,136.18 L502.14,134.41 L502.44,132.62 L502.73,130.83 L503.02,129.02" fill="none" stroke="#ff8000" stroke-width="3.4" stroke-dasharray="6.4 6.29"/>
</g>
<rect x="93.95" y="2.95" width="473.60" height="292.85" fill="none" stroke="#666" stroke-width="1.05"/>
<line x1="103.36" y1="295.80" x2="103.36" y2="290.20" stroke="#666" stroke-width="1.0"/>
<line x1="103.36" y1="2.95" x2="103.36" y2="8.55" stroke="#666" stroke-width="1.0"/>
<line x1="116.36" y1="295.80" x2="116.36" y2="292.30" stroke="#666" stroke-width="1.0"/>
<line x1="116.36" y1="2.95" x2="116.36" y2="6.45" stroke="#666" stroke-width="1.0"/>
<line x1="129.35" y1="295.80" x2="129.35" y2="292.30" stroke="#666" stroke-width="1.0"/>
<line x1="129.35" y1="2.95" x2="129.35" y2="6.45" stroke="#666" stroke-width="1.0"/>
<line x1="142.35" y1="295.80" x2="142.35" y2="292.30" stroke="#666" stroke-width="1.0"/>
<line x1="142.35" y1="2.95" x2="142.35" y2="6.45" stroke="#666" stroke-width="1.0"/>
<line x1="155.35" y1="295.80" x2="155.35" y2="292.30" stroke="#666" stroke-width="1.0"/>
<line x1="155.35" y1="2.95" x2="155.35" y2="6.45" stroke="#666" stroke-width="1.0"/>
<line x1="168.35" y1="295.80" x2="168.35" y2="290.20" stroke="#666" stroke-width="1.0"/>
<line x1="168.35" y1="2.95" x2="168.35" y2="8.55" stroke="#666" stroke-width="1.0"/>
<line x1="181.34" y1="295.80" x2="181.34" y2="292.30" stroke="#666" stroke-width="1.0"/>
<line x1="181.34" y1="2.95" x2="181.34" y2="6.45" stroke="#666" stroke-width="1.0"/>
<line x1="194.34" y1="295.80" x2="194.34" y2="292.30" stroke="#666" stroke-width="1.0"/>
<line x1="194.34" y1="2.95" x2="194.34" y2="6.45" stroke="#666" stroke-width="1.0"/>
<line x1="207.34" y1="295.80" x2="207.34" y2="292.30" stroke="#666" stroke-width="1.0"/>
<line x1="207.34" y1="2.95" x2="207.34" y2="6.45" stroke="#666" stroke-width="1.0"/>
<line x1="220.33" y1="295.80" x2="220.33" y2="292.30" stroke="#666" stroke-width="1.0"/>
<line x1="220.33" y1="2.95" x2="220.33" y2="6.45" stroke="#666" stroke-width="1.0"/>
<line x1="233.33" y1="295.80" x2="233.33" y2="290.20" stroke="#666" stroke-width="1.0"/>
<line x1="233.33" y1="2.95" x2="233.33" y2="8.55" stroke="#666" stroke-width="1.0"/>
<line x1="246.33" y1="295.80" x2="246.33" y2="292.30" stroke="#666" stroke-width="1.0"/>
<line x1="246.33" y1="2.95" x2="246.33" y2="6.45" stroke="#666" stroke-width="1.0"/>
<line x1="259.33" y1="295.80" x2="259.33" y2="292.30" stroke="#666" stroke-width="1.0"/>
<line x1="259.33" y1="2.95" x2="259.33" y2="6.45" stroke="#666" stroke-width="1.0"/>
<line x1="272.32" y1="295.80" x2="272.32" y2="292.30" stroke="#666" stroke-width="1.0"/>
<line x1="272.32" y1="2.95" x2="272.32" y2="6.45" stroke="#666" stroke-width="1.0"/>
<line x1="285.32" y1="295.80" x2="285.32" y2="292.30" stroke="#666" stroke-width="1.0"/>
<line x1="285.32" y1="2.95" x2="285.32" y2="6.45" stroke="#666" stroke-width="1.0"/>
<line x1="298.32" y1="295.80" x2="298.32" y2="290.20" stroke="#666" stroke-width="1.0"/>
<line x1="298.32" y1="2.95" x2="298.32" y2="8.55" stroke="#666" stroke-width="1.0"/>
<line x1="311.32" y1="295.80" x2="311.32" y2="292.30" stroke="#666" stroke-width="1.0"/>
<line x1="311.32" y1="2.95" x2="311.32" y2="6.45" stroke="#666" stroke-width="1.0"/>
<line x1="324.31" y1="295.80" x2="324.31" y2="292.30" stroke="#666" stroke-width="1.0"/>
<line x1="324.31" y1="2.95" x2="324.31" y2="6.45" stroke="#666" stroke-width="1.0"/>
<line x1="337.31" y1="295.80" x2="337.31" y2="292.30" stroke="#666" stroke-width="1.0"/>
<line x1="337.31" y1="2.95" x2="337.31" y2="6.45" stroke="#666" stroke-width="1.0"/>
<line x1="350.31" y1="295.80" x2="350.31" y2="292.30" stroke="#666" stroke-width="1.0"/>
<line x1="350.31" y1="2.95" x2="350.31" y2="6.45" stroke="#666" stroke-width="1.0"/>
<line x1="363.30" y1="295.80" x2="363.30" y2="290.20" stroke="#666" stroke-width="1.0"/>
<line x1="363.30" y1="2.95" x2="363.30" y2="8.55" stroke="#666" stroke-width="1.0"/>
<line x1="376.30" y1="295.80" x2="376.30" y2="292.30" stroke="#666" stroke-width="1.0"/>
<line x1="376.30" y1="2.95" x2="376.30" y2="6.45" stroke="#666" stroke-width="1.0"/>
<line x1="389.30" y1="295.80" x2="389.30" y2="292.30" stroke="#666" stroke-width="1.0"/>
<line x1="389.30" y1="2.95" x2="389.30" y2="6.45" stroke="#666" stroke-width="1.0"/>
<line x1="402.30" y1="295.80" x2="402.30" y2="292.30" stroke="#666" stroke-width="1.0"/>
<line x1="402.30" y1="2.95" x2="402.30" y2="6.45" stroke="#666" stroke-width="1.0"/>
<line x1="415.29" y1="295.80" x2="415.29" y2="292.30" stroke="#666" stroke-width="1.0"/>
<line x1="415.29" y1="2.95" x2="415.29" y2="6.45" stroke="#666" stroke-width="1.0"/>
<line x1="428.29" y1="295.80" x2="428.29" y2="290.20" stroke="#666" stroke-width="1.0"/>
<line x1="428.29" y1="2.95" x2="428.29" y2="8.55" stroke="#666" stroke-width="1.0"/>
<line x1="441.29" y1="295.80" x2="441.29" y2="292.30" stroke="#666" stroke-width="1.0"/>
<line x1="441.29" y1="2.95" x2="441.29" y2="6.45" stroke="#666" stroke-width="1.0"/>
<line x1="454.28" y1="295.80" x2="454.28" y2="292.30" stroke="#666" stroke-width="1.0"/>
<line x1="454.28" y1="2.95" x2="454.28" y2="6.45" stroke="#666" stroke-width="1.0"/>
<line x1="467.28" y1="295.80" x2="467.28" y2="292.30" stroke="#666" stroke-width="1.0"/>
<line x1="467.28" y1="2.95" x2="467.28" y2="6.45" stroke="#666" stroke-width="1.0"/>
<line x1="480.28" y1="295.80" x2="480.28" y2="292.30" stroke="#666" stroke-width="1.0"/>
<line x1="480.28" y1="2.95" x2="480.28" y2="6.45" stroke="#666" stroke-width="1.0"/>
<line x1="493.28" y1="295.80" x2="493.28" y2="290.20" stroke="#666" stroke-width="1.0"/>
<line x1="493.28" y1="2.95" x2="493.28" y2="8.55" stroke="#666" stroke-width="1.0"/>
<line x1="506.27" y1="295.80" x2="506.27" y2="292.30" stroke="#666" stroke-width="1.0"/>
<line x1="506.27" y1="2.95" x2="506.27" y2="6.45" stroke="#666" stroke-width="1.0"/>
<line x1="519.27" y1="295.80" x2="519.27" y2="292.30" stroke="#666" stroke-width="1.0"/>
<line x1="519.27" y1="2.95" x2="519.27" y2="6.45" stroke="#666" stroke-width="1.0"/>
<line x1="532.27" y1="295.80" x2="532.27" y2="292.30" stroke="#666" stroke-width="1.0"/>
<line x1="532.27" y1="2.95" x2="532.27" y2="6.45" stroke="#666" stroke-width="1.0"/>
<line x1="545.26" y1="295.80" x2="545.26" y2="292.30" stroke="#666" stroke-width="1.0"/>
<line x1="545.26" y1="2.95" x2="545.26" y2="6.45" stroke="#666" stroke-width="1.0"/>
<line x1="558.26" y1="295.80" x2="558.26" y2="290.20" stroke="#666" stroke-width="1.0"/>
<line x1="558.26" y1="2.95" x2="558.26" y2="8.55" stroke="#666" stroke-width="1.0"/>
<line x1="93.95" y1="281.17" x2="97.45" y2="281.17" stroke="#666" stroke-width="1.0"/>
<line x1="567.55" y1="281.17" x2="564.05" y2="281.17" stroke="#666" stroke-width="1.0"/>
<line x1="93.95" y1="266.52" x2="97.45" y2="266.52" stroke="#666" stroke-width="1.0"/>
<line x1="567.55" y1="266.52" x2="564.05" y2="266.52" stroke="#666" stroke-width="1.0"/>
<line x1="93.95" y1="251.90" x2="99.55" y2="251.90" stroke="#666" stroke-width="1.0"/>
<line x1="567.55" y1="251.90" x2="561.95" y2="251.90" stroke="#666" stroke-width="1.0"/>
<line x1="93.95" y1="237.22" x2="97.45" y2="237.22" stroke="#666" stroke-width="1.0"/>
<line x1="567.55" y1="237.22" x2="564.05" y2="237.22" stroke="#666" stroke-width="1.0"/>
<line x1="93.95" y1="222.57" x2="97.45" y2="222.57" stroke="#666" stroke-width="1.0"/>
<line x1="567.55" y1="222.57" x2="564.05" y2="222.57" stroke="#666" stroke-width="1.0"/>
<line x1="93.95" y1="207.92" x2="97.45" y2="207.92" stroke="#666" stroke-width="1.0"/>
<line x1="567.55" y1="207.92" x2="564.05" y2="207.92" stroke="#666" stroke-width="1.0"/>
<line x1="93.95" y1="193.40" x2="99.55" y2="193.40" stroke="#666" stroke-width="1.0"/>
<line x1="567.55" y1="193.40" x2="561.95" y2="193.40" stroke="#666" stroke-width="1.0"/>
<line x1="93.95" y1="178.62" x2="97.45" y2="178.62" stroke="#666" stroke-width="1.0"/>
<line x1="567.55" y1="178.62" x2="564.05" y2="178.62" stroke="#666" stroke-width="1.0"/>
<line x1="93.95" y1="163.97" x2="97.45" y2="163.97" stroke="#666" stroke-width="1.0"/>
<line x1="567.55" y1="163.97" x2="564.05" y2="163.97" stroke="#666" stroke-width="1.0"/>
<line x1="93.95" y1="149.32" x2="97.45" y2="149.32" stroke="#666" stroke-width="1.0"/>
<line x1="567.55" y1="149.32" x2="564.05" y2="149.32" stroke="#666" stroke-width="1.0"/>
<line x1="93.95" y1="134.75" x2="99.55" y2="134.75" stroke="#666" stroke-width="1.0"/>
<line x1="567.55" y1="134.75" x2="561.95" y2="134.75" stroke="#666" stroke-width="1.0"/>
<line x1="93.95" y1="120.02" x2="97.45" y2="120.02" stroke="#666" stroke-width="1.0"/>
<line x1="567.55" y1="120.02" x2="564.05" y2="120.02" stroke="#666" stroke-width="1.0"/>
<line x1="93.95" y1="105.38" x2="97.45" y2="105.38" stroke="#666" stroke-width="1.0"/>
<line x1="567.55" y1="105.38" x2="564.05" y2="105.38" stroke="#666" stroke-width="1.0"/>
<line x1="93.95" y1="90.73" x2="97.45" y2="90.73" stroke="#666" stroke-width="1.0"/>
<line x1="567.55" y1="90.73" x2="564.05" y2="90.73" stroke="#666" stroke-width="1.0"/>
<line x1="93.95" y1="76.40" x2="99.55" y2="76.40" stroke="#666" stroke-width="1.0"/>
<line x1="567.55" y1="76.40" x2="561.95" y2="76.40" stroke="#666" stroke-width="1.0"/>
<line x1="93.95" y1="61.43" x2="97.45" y2="61.43" stroke="#666" stroke-width="1.0"/>
<line x1="567.55" y1="61.43" x2="564.05" y2="61.43" stroke="#666" stroke-width="1.0"/>
<line x1="93.95" y1="46.78" x2="97.45" y2="46.78" stroke="#666" stroke-width="1.0"/>
<line x1="567.55" y1="46.78" x2="564.05" y2="46.78" stroke="#666" stroke-width="1.0"/>
<line x1="93.95" y1="32.13" x2="97.45" y2="32.13" stroke="#666" stroke-width="1.0"/>
<line x1="567.55" y1="32.13" x2="564.05" y2="32.13" stroke="#666" stroke-width="1.0"/>
<line x1="93.95" y1="17.50" x2="99.55" y2="17.50" stroke="#666" stroke-width="1.0"/>
<line x1="567.55" y1="17.50" x2="561.95" y2="17.50" stroke="#666" stroke-width="1.0"/>
<line x1="588.75" y1="78.1" x2="650.0" y2="78.1" stroke="#000" stroke-width="2.8" stroke-linecap="square"/>
<line x1="588.75" y1="130.6" x2="650.0" y2="130.6" stroke="#f00" stroke-width="2.8" stroke-dasharray="11.3 10.7"/>
<line x1="588.75" y1="183.5" x2="650.0" y2="183.5" stroke="#00f" stroke-width="2.8" stroke-dasharray="2.1 5.8 6.6 6.0"/>
<line x1="588.75" y1="236.3" x2="650.0" y2="236.3" stroke="#0f0" stroke-width="2.8" stroke-dasharray="2.8 2.69"/>
<line x1="589.0" y1="288.9" x2="650.0" y2="288.9" stroke="#ff8000" stroke-width="3.6" stroke-dasharray="6.8 5.92"/>
<text x="103.36" y="322.20" font-size="23.5" text-anchor="middle">0</text>
<text x="155.28" y="322.20" font-size="23.5" text-anchor="start" dx="0.85 -0.85">10</text>
<text x="233.33" y="322.20" font-size="23.5" text-anchor="middle">20</text>
<text x="298.32" y="322.20" font-size="23.5" text-anchor="middle">30</text>
<text x="363.30" y="322.20" font-size="23.5" text-anchor="middle">40</text>
<text x="428.29" y="322.20" font-size="23.5" text-anchor="middle">50</text>
<text x="493.28" y="322.20" font-size="23.5" text-anchor="middle">60</text>
<text x="558.26" y="322.20" font-size="23.5" text-anchor="middle">70</text>
<text x="88.60" y="260.00" font-size="23.5" text-anchor="end">200</text>
<text x="88.60" y="202.00" font-size="23.5" text-anchor="end">400</text>
<text x="88.60" y="143.00" font-size="23.5" text-anchor="end">600</text>
<text x="88.60" y="85.00" font-size="23.5" text-anchor="end">800</text>
<text x="36.32" y="26.00" font-size="23.5" text-anchor="start" dx="0.85 -0.85">1000</text>
<text x="324.50" y="359.00" font-size="23.5" text-anchor="middle">r</text>
<g transform="translate(21.4,184.2) rotate(-90)"><text x="0" y="0" font-size="23.5">V<tspan dy="6" font-size="16.0">bubble</tspan></text></g>
<text x="662.60" y="84.00" font-size="23.85" text-anchor="start" xml:space="preserve" dx="0.3 1.1 0 -1.4">Δ/Θ = 2</text>
<text x="662.60" y="137.00" font-size="23.85" text-anchor="start" xml:space="preserve" dx="0.3 1.1 0 -1.4">Δ/Θ  = 4</text>
<text x="662.60" y="189.00" font-size="23.85" text-anchor="start" xml:space="preserve" dx="0.3 1.1 0 -1.4">Δ/Θ  = 6</text>
<text x="662.60" y="242.00" font-size="23.85" text-anchor="start" xml:space="preserve" dx="0.3 1.1 0 -1.4 0 0 0 0.86 -0.86">Δ/Θ  = 10</text>
<text x="662.60" y="295.00" font-size="23.85" text-anchor="start" xml:space="preserve">SHO approach</text>
<rect x="156.81" y="319.79" width="5.09" height="2.76" fill="#fff"/>
<rect x="164.23" y="319.79" width="4.80" height="2.76" fill="#fff"/>
<rect x="37.85" y="23.79" width="5.09" height="2.76" fill="#fff"/>
<rect x="45.28" y="23.79" width="4.80" height="2.76" fill="#fff"/>
<rect x="739.09" y="239.76" width="5.15" height="2.79" fill="#fff"/>
<rect x="746.60" y="239.76" width="4.86" height="2.79" fill="#fff"/>
</svg>
</body></html>
